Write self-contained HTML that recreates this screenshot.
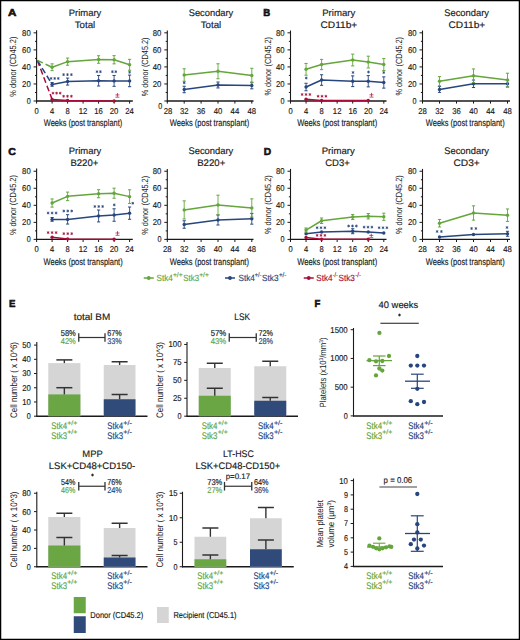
<!DOCTYPE html>
<html><head><meta charset="utf-8"><style>
html,body{margin:0;padding:0;background:#fff;}
body{width:520px;height:640px;overflow:hidden;}
svg{display:block;font-family:"Liberation Sans", sans-serif;}
</style></head><body>
<svg width="520" height="640" viewBox="0 0 520 640" text-rendering="geometricPrecision">
<rect x="0" y="0" width="520" height="640" fill="#fff"/>
<line x1="36.6" y1="30.2" x2="36.6" y2="101.5" stroke="#1a1a1a" stroke-width="1.1"/>
<line x1="36.1" y1="101" x2="132.8" y2="101" stroke="#1a1a1a" stroke-width="1.3"/>
<line x1="33.6" y1="101" x2="36.6" y2="101" stroke="#1a1a1a" stroke-width="1"/>
<line x1="33.6" y1="83.96" x2="36.6" y2="83.96" stroke="#1a1a1a" stroke-width="1"/>
<line x1="33.6" y1="66.92" x2="36.6" y2="66.92" stroke="#1a1a1a" stroke-width="1"/>
<line x1="33.6" y1="49.88" x2="36.6" y2="49.88" stroke="#1a1a1a" stroke-width="1"/>
<line x1="33.6" y1="32.84" x2="36.6" y2="32.84" stroke="#1a1a1a" stroke-width="1"/>
<line x1="35" y1="92.48" x2="36.6" y2="92.48" stroke="#1a1a1a" stroke-width="1"/>
<line x1="35" y1="75.44" x2="36.6" y2="75.44" stroke="#1a1a1a" stroke-width="1"/>
<line x1="35" y1="58.4" x2="36.6" y2="58.4" stroke="#1a1a1a" stroke-width="1"/>
<line x1="35" y1="41.36" x2="36.6" y2="41.36" stroke="#1a1a1a" stroke-width="1"/>
<line x1="36.6" y1="101" x2="36.6" y2="103.6" stroke="#1a1a1a" stroke-width="1"/>
<line x1="52.1" y1="101" x2="52.1" y2="103.6" stroke="#1a1a1a" stroke-width="1"/>
<line x1="67.6" y1="101" x2="67.6" y2="103.6" stroke="#1a1a1a" stroke-width="1"/>
<line x1="83.1" y1="101" x2="83.1" y2="103.6" stroke="#1a1a1a" stroke-width="1"/>
<line x1="98.6" y1="101" x2="98.6" y2="103.6" stroke="#1a1a1a" stroke-width="1"/>
<line x1="114.1" y1="101" x2="114.1" y2="103.6" stroke="#1a1a1a" stroke-width="1"/>
<line x1="129.6" y1="101" x2="129.6" y2="103.6" stroke="#1a1a1a" stroke-width="1"/>
<text x="30.7" y="86.86" font-size="8.5" fill="#1a1a1a" stroke="#1a1a1a" stroke-width="0.16" text-anchor="end" textLength="8.6" lengthAdjust="spacingAndGlyphs">20</text>
<text x="30.7" y="69.82" font-size="8.5" fill="#1a1a1a" stroke="#1a1a1a" stroke-width="0.16" text-anchor="end" textLength="8.6" lengthAdjust="spacingAndGlyphs">40</text>
<text x="30.7" y="52.78" font-size="8.5" fill="#1a1a1a" stroke="#1a1a1a" stroke-width="0.16" text-anchor="end" textLength="8.6" lengthAdjust="spacingAndGlyphs">60</text>
<text x="30.7" y="35.74" font-size="8.5" fill="#1a1a1a" stroke="#1a1a1a" stroke-width="0.16" text-anchor="end" textLength="8.6" lengthAdjust="spacingAndGlyphs">80</text>
<text x="30.7" y="103.9" font-size="8.5" fill="#1a1a1a" stroke="#1a1a1a" stroke-width="0.16" text-anchor="end" textLength="4" lengthAdjust="spacingAndGlyphs">0</text>
<text x="36.6" y="113.8" font-size="8.5" fill="#1a1a1a" stroke="#1a1a1a" stroke-width="0.16" text-anchor="middle" textLength="4.2" lengthAdjust="spacingAndGlyphs">0</text>
<text x="52.1" y="113.8" font-size="8.5" fill="#1a1a1a" stroke="#1a1a1a" stroke-width="0.16" text-anchor="middle" textLength="4.2" lengthAdjust="spacingAndGlyphs">4</text>
<text x="67.6" y="113.8" font-size="8.5" fill="#1a1a1a" stroke="#1a1a1a" stroke-width="0.16" text-anchor="middle" textLength="4.2" lengthAdjust="spacingAndGlyphs">8</text>
<text x="83.1" y="113.8" font-size="8.5" fill="#1a1a1a" stroke="#1a1a1a" stroke-width="0.16" text-anchor="middle" textLength="8.6" lengthAdjust="spacingAndGlyphs">12</text>
<text x="98.6" y="113.8" font-size="8.5" fill="#1a1a1a" stroke="#1a1a1a" stroke-width="0.16" text-anchor="middle" textLength="8.6" lengthAdjust="spacingAndGlyphs">16</text>
<text x="114.1" y="113.8" font-size="8.5" fill="#1a1a1a" stroke="#1a1a1a" stroke-width="0.16" text-anchor="middle" textLength="8.6" lengthAdjust="spacingAndGlyphs">20</text>
<text x="129.6" y="113.8" font-size="8.5" fill="#1a1a1a" stroke="#1a1a1a" stroke-width="0.16" text-anchor="middle" textLength="8.6" lengthAdjust="spacingAndGlyphs">24</text>
<polyline points="37.4,60.4 52.1,99.38" fill="none" stroke="#a80c38" stroke-width="1.5" stroke-linejoin="round" stroke-dasharray="6,3"/>
<polyline points="52.1,99.38 67.6,100.57 114.1,101" fill="none" stroke="#a80c38" stroke-width="1.5" stroke-linejoin="round"/>
<circle cx="52.1" cy="99.38" r="1.7" fill="#a80c38"/>
<circle cx="67.6" cy="100.57" r="1.7" fill="#a80c38"/>
<circle cx="114.1" cy="101" r="1.7" fill="#a80c38"/>
<polyline points="37.4,60.4 52.1,84.39" fill="none" stroke="#28467e" stroke-width="1.5" stroke-linejoin="round" stroke-dasharray="6,3"/>
<polyline points="52.1,84.39 67.6,81.57 98.6,80.72 114.1,80.89 129.6,80.89" fill="none" stroke="#28467e" stroke-width="1.5" stroke-linejoin="round"/>
<line x1="52.1" y1="82.51" x2="52.1" y2="86.26" stroke="#28467e" stroke-width="0.9"/>
<line x1="50.5" y1="82.51" x2="53.7" y2="82.51" stroke="#28467e" stroke-width="1"/>
<line x1="50.5" y1="86.26" x2="53.7" y2="86.26" stroke="#28467e" stroke-width="1"/>
<circle cx="52.1" cy="84.39" r="1.7" fill="#28467e"/>
<line x1="67.6" y1="78.08" x2="67.6" y2="85.07" stroke="#28467e" stroke-width="0.9"/>
<line x1="66" y1="78.08" x2="69.2" y2="78.08" stroke="#28467e" stroke-width="1"/>
<line x1="66" y1="85.07" x2="69.2" y2="85.07" stroke="#28467e" stroke-width="1"/>
<circle cx="67.6" cy="81.57" r="1.7" fill="#28467e"/>
<line x1="98.6" y1="75.44" x2="98.6" y2="86" stroke="#28467e" stroke-width="0.9"/>
<line x1="97" y1="75.44" x2="100.2" y2="75.44" stroke="#28467e" stroke-width="1"/>
<line x1="97" y1="86" x2="100.2" y2="86" stroke="#28467e" stroke-width="1"/>
<circle cx="98.6" cy="80.72" r="1.7" fill="#28467e"/>
<line x1="114.1" y1="75.44" x2="114.1" y2="86.35" stroke="#28467e" stroke-width="0.9"/>
<line x1="112.5" y1="75.44" x2="115.7" y2="75.44" stroke="#28467e" stroke-width="1"/>
<line x1="112.5" y1="86.35" x2="115.7" y2="86.35" stroke="#28467e" stroke-width="1"/>
<circle cx="114.1" cy="80.89" r="1.7" fill="#28467e"/>
<line x1="129.6" y1="75.1" x2="129.6" y2="86.69" stroke="#28467e" stroke-width="0.9"/>
<line x1="128" y1="75.1" x2="131.2" y2="75.1" stroke="#28467e" stroke-width="1"/>
<line x1="128" y1="86.69" x2="131.2" y2="86.69" stroke="#28467e" stroke-width="1"/>
<circle cx="129.6" cy="80.89" r="1.7" fill="#28467e"/>
<polyline points="37.4,60.4 52.1,67.26" fill="none" stroke="#64a63c" stroke-width="1.5" stroke-linejoin="round" stroke-dasharray="6,3"/>
<polyline points="52.1,67.26 67.6,61.64 98.6,59.51 114.1,59.76 129.6,64.79" fill="none" stroke="#64a63c" stroke-width="1.5" stroke-linejoin="round"/>
<line x1="52.1" y1="63.85" x2="52.1" y2="70.67" stroke="#64a63c" stroke-width="0.9"/>
<line x1="50.5" y1="63.85" x2="53.7" y2="63.85" stroke="#64a63c" stroke-width="1"/>
<line x1="50.5" y1="70.67" x2="53.7" y2="70.67" stroke="#64a63c" stroke-width="1"/>
<circle cx="52.1" cy="67.26" r="1.7" fill="#64a63c"/>
<line x1="67.6" y1="58.06" x2="67.6" y2="65.22" stroke="#64a63c" stroke-width="0.9"/>
<line x1="66" y1="58.06" x2="69.2" y2="58.06" stroke="#64a63c" stroke-width="1"/>
<line x1="66" y1="65.22" x2="69.2" y2="65.22" stroke="#64a63c" stroke-width="1"/>
<circle cx="67.6" cy="61.64" r="1.7" fill="#64a63c"/>
<line x1="98.6" y1="55.76" x2="98.6" y2="63.26" stroke="#64a63c" stroke-width="0.9"/>
<line x1="97" y1="55.76" x2="100.2" y2="55.76" stroke="#64a63c" stroke-width="1"/>
<line x1="97" y1="63.26" x2="100.2" y2="63.26" stroke="#64a63c" stroke-width="1"/>
<circle cx="98.6" cy="59.51" r="1.7" fill="#64a63c"/>
<line x1="114.1" y1="55.67" x2="114.1" y2="63.85" stroke="#64a63c" stroke-width="0.9"/>
<line x1="112.5" y1="55.67" x2="115.7" y2="55.67" stroke="#64a63c" stroke-width="1"/>
<line x1="112.5" y1="63.85" x2="115.7" y2="63.85" stroke="#64a63c" stroke-width="1"/>
<circle cx="114.1" cy="59.76" r="1.7" fill="#64a63c"/>
<line x1="129.6" y1="59.34" x2="129.6" y2="70.24" stroke="#64a63c" stroke-width="0.9"/>
<line x1="128" y1="59.34" x2="131.2" y2="59.34" stroke="#64a63c" stroke-width="1"/>
<line x1="128" y1="70.24" x2="131.2" y2="70.24" stroke="#64a63c" stroke-width="1"/>
<circle cx="129.6" cy="64.79" r="1.7" fill="#64a63c"/>
<path d="M51.1,77.05L51.1,79.85M52.31,77.75L49.89,79.15M52.31,79.15L49.89,77.75" stroke="#28467e" stroke-width="0.8" fill="none"/>
<path d="M54.7,77.05L54.7,79.85M55.91,77.75L53.49,79.15M55.91,79.15L53.49,77.75" stroke="#28467e" stroke-width="0.8" fill="none"/>
<path d="M58.3,77.05L58.3,79.85M59.51,77.75L57.09,79.15M59.51,79.15L57.09,77.75" stroke="#28467e" stroke-width="0.8" fill="none"/>
<path d="M63.6,73.22L63.6,76.03M64.81,73.92L62.39,75.33M64.81,75.33L62.39,73.92" stroke="#28467e" stroke-width="0.8" fill="none"/>
<path d="M67.5,73.22L67.5,76.03M68.71,73.92L66.29,75.33M68.71,75.33L66.29,73.92" stroke="#28467e" stroke-width="0.8" fill="none"/>
<path d="M71.4,73.22L71.4,76.03M72.61,73.92L70.19,75.33M72.61,75.33L70.19,73.92" stroke="#28467e" stroke-width="0.8" fill="none"/>
<path d="M97,70.3L97,73.1M98.21,71L95.79,72.4M98.21,72.4L95.79,71" stroke="#28467e" stroke-width="0.8" fill="none"/>
<path d="M100.4,70.3L100.4,73.1M101.61,71L99.19,72.4M101.61,72.4L99.19,71" stroke="#28467e" stroke-width="0.8" fill="none"/>
<path d="M112.4,70.3L112.4,73.1M113.61,71L111.19,72.4M113.61,72.4L111.19,71" stroke="#28467e" stroke-width="0.8" fill="none"/>
<path d="M115.8,70.3L115.8,73.1M117.01,71L114.59,72.4M117.01,72.4L114.59,71" stroke="#28467e" stroke-width="0.8" fill="none"/>
<path d="M129.6,70.85L129.6,73.65M130.81,71.55L128.39,72.95M130.81,72.95L128.39,71.55" stroke="#28467e" stroke-width="0.8" fill="none"/>
<path d="M53,91.75L53,94.55M54.21,92.45L51.79,93.85M54.21,93.85L51.79,92.45" stroke="#a80c38" stroke-width="0.8" fill="none"/>
<path d="M56.58,91.75L56.58,94.55M57.79,92.45L55.36,93.85M57.79,93.85L55.36,92.45" stroke="#a80c38" stroke-width="0.8" fill="none"/>
<path d="M60.15,91.75L60.15,94.55M61.36,92.45L58.94,93.85M61.36,93.85L58.94,92.45" stroke="#a80c38" stroke-width="0.8" fill="none"/>
<path d="M63.6,94.85L63.6,97.65M64.81,95.55L62.39,96.95M64.81,96.95L62.39,95.55" stroke="#a80c38" stroke-width="0.8" fill="none"/>
<path d="M67.5,94.85L67.5,97.65M68.71,95.55L66.29,96.95M68.71,96.95L66.29,95.55" stroke="#a80c38" stroke-width="0.8" fill="none"/>
<path d="M71.4,94.85L71.4,97.65M72.61,95.55L70.19,96.95M72.61,96.95L70.19,95.55" stroke="#a80c38" stroke-width="0.8" fill="none"/>
<line x1="115.4" y1="94.9" x2="119.4" y2="94.9" stroke="#a80c38" stroke-width="0.7"/>
<line x1="117.4" y1="93" x2="117.4" y2="96.8" stroke="#a80c38" stroke-width="0.7"/>
<line x1="115.4" y1="97.2" x2="119.4" y2="97.2" stroke="#a80c38" stroke-width="0.7"/>
<line x1="167.3" y1="30.5" x2="167.3" y2="101.5" stroke="#1a1a1a" stroke-width="1.1"/>
<line x1="166.8" y1="101" x2="253.5" y2="101" stroke="#1a1a1a" stroke-width="1.3"/>
<line x1="164.3" y1="101" x2="167.3" y2="101" stroke="#1a1a1a" stroke-width="1"/>
<line x1="164.3" y1="83.96" x2="167.3" y2="83.96" stroke="#1a1a1a" stroke-width="1"/>
<line x1="164.3" y1="66.92" x2="167.3" y2="66.92" stroke="#1a1a1a" stroke-width="1"/>
<line x1="164.3" y1="49.88" x2="167.3" y2="49.88" stroke="#1a1a1a" stroke-width="1"/>
<line x1="164.3" y1="32.84" x2="167.3" y2="32.84" stroke="#1a1a1a" stroke-width="1"/>
<line x1="165.7" y1="92.48" x2="167.3" y2="92.48" stroke="#1a1a1a" stroke-width="1"/>
<line x1="165.7" y1="75.44" x2="167.3" y2="75.44" stroke="#1a1a1a" stroke-width="1"/>
<line x1="165.7" y1="58.4" x2="167.3" y2="58.4" stroke="#1a1a1a" stroke-width="1"/>
<line x1="165.7" y1="41.36" x2="167.3" y2="41.36" stroke="#1a1a1a" stroke-width="1"/>
<line x1="167.3" y1="101" x2="167.3" y2="103.6" stroke="#1a1a1a" stroke-width="1"/>
<line x1="184.2" y1="101" x2="184.2" y2="103.6" stroke="#1a1a1a" stroke-width="1"/>
<line x1="201.1" y1="101" x2="201.1" y2="103.6" stroke="#1a1a1a" stroke-width="1"/>
<line x1="218" y1="101" x2="218" y2="103.6" stroke="#1a1a1a" stroke-width="1"/>
<line x1="234.9" y1="101" x2="234.9" y2="103.6" stroke="#1a1a1a" stroke-width="1"/>
<line x1="251.8" y1="101" x2="251.8" y2="103.6" stroke="#1a1a1a" stroke-width="1"/>
<text x="161.4" y="86.86" font-size="8.5" fill="#1a1a1a" stroke="#1a1a1a" stroke-width="0.16" text-anchor="end" textLength="8.6" lengthAdjust="spacingAndGlyphs">20</text>
<text x="161.4" y="69.82" font-size="8.5" fill="#1a1a1a" stroke="#1a1a1a" stroke-width="0.16" text-anchor="end" textLength="8.6" lengthAdjust="spacingAndGlyphs">40</text>
<text x="161.4" y="52.78" font-size="8.5" fill="#1a1a1a" stroke="#1a1a1a" stroke-width="0.16" text-anchor="end" textLength="8.6" lengthAdjust="spacingAndGlyphs">60</text>
<text x="161.4" y="35.74" font-size="8.5" fill="#1a1a1a" stroke="#1a1a1a" stroke-width="0.16" text-anchor="end" textLength="8.6" lengthAdjust="spacingAndGlyphs">80</text>
<text x="162.3" y="109.1" font-size="8.5" fill="#1a1a1a" stroke="#1a1a1a" stroke-width="0.16" text-anchor="end" textLength="4" lengthAdjust="spacingAndGlyphs">0</text>
<text x="168.1" y="113.8" font-size="8.5" fill="#1a1a1a" stroke="#1a1a1a" stroke-width="0.16" text-anchor="middle" textLength="8.6" lengthAdjust="spacingAndGlyphs">28</text>
<text x="184.2" y="113.8" font-size="8.5" fill="#1a1a1a" stroke="#1a1a1a" stroke-width="0.16" text-anchor="middle" textLength="8.6" lengthAdjust="spacingAndGlyphs">32</text>
<text x="201.1" y="113.8" font-size="8.5" fill="#1a1a1a" stroke="#1a1a1a" stroke-width="0.16" text-anchor="middle" textLength="8.6" lengthAdjust="spacingAndGlyphs">36</text>
<text x="218" y="113.8" font-size="8.5" fill="#1a1a1a" stroke="#1a1a1a" stroke-width="0.16" text-anchor="middle" textLength="8.6" lengthAdjust="spacingAndGlyphs">40</text>
<text x="234.9" y="113.8" font-size="8.5" fill="#1a1a1a" stroke="#1a1a1a" stroke-width="0.16" text-anchor="middle" textLength="8.6" lengthAdjust="spacingAndGlyphs">44</text>
<text x="251.8" y="113.8" font-size="8.5" fill="#1a1a1a" stroke="#1a1a1a" stroke-width="0.16" text-anchor="middle" textLength="8.6" lengthAdjust="spacingAndGlyphs">48</text>
<polyline points="184.2,89.5 218,84.98 251.8,85.49" fill="none" stroke="#28467e" stroke-width="1.5" stroke-linejoin="round"/>
<line x1="184.2" y1="86.26" x2="184.2" y2="92.74" stroke="#28467e" stroke-width="0.9"/>
<line x1="182.6" y1="86.26" x2="185.8" y2="86.26" stroke="#28467e" stroke-width="1"/>
<line x1="182.6" y1="92.74" x2="185.8" y2="92.74" stroke="#28467e" stroke-width="1"/>
<circle cx="184.2" cy="89.5" r="1.7" fill="#28467e"/>
<line x1="218" y1="82" x2="218" y2="87.96" stroke="#28467e" stroke-width="0.9"/>
<line x1="216.4" y1="82" x2="219.6" y2="82" stroke="#28467e" stroke-width="1"/>
<line x1="216.4" y1="87.96" x2="219.6" y2="87.96" stroke="#28467e" stroke-width="1"/>
<circle cx="218" cy="84.98" r="1.7" fill="#28467e"/>
<line x1="251.8" y1="82.17" x2="251.8" y2="88.82" stroke="#28467e" stroke-width="0.9"/>
<line x1="250.2" y1="82.17" x2="253.4" y2="82.17" stroke="#28467e" stroke-width="1"/>
<line x1="250.2" y1="88.82" x2="253.4" y2="88.82" stroke="#28467e" stroke-width="1"/>
<circle cx="251.8" cy="85.49" r="1.7" fill="#28467e"/>
<polyline points="184.2,75.01 218,71.27 251.8,75.53" fill="none" stroke="#64a63c" stroke-width="1.5" stroke-linejoin="round"/>
<line x1="184.2" y1="68.79" x2="184.2" y2="81.23" stroke="#64a63c" stroke-width="0.9"/>
<line x1="182.6" y1="68.79" x2="185.8" y2="68.79" stroke="#64a63c" stroke-width="1"/>
<line x1="182.6" y1="81.23" x2="185.8" y2="81.23" stroke="#64a63c" stroke-width="1"/>
<circle cx="184.2" cy="75.01" r="1.7" fill="#64a63c"/>
<line x1="218" y1="63.77" x2="218" y2="78.76" stroke="#64a63c" stroke-width="0.9"/>
<line x1="216.4" y1="63.77" x2="219.6" y2="63.77" stroke="#64a63c" stroke-width="1"/>
<line x1="216.4" y1="78.76" x2="219.6" y2="78.76" stroke="#64a63c" stroke-width="1"/>
<circle cx="218" cy="71.27" r="1.7" fill="#64a63c"/>
<line x1="251.8" y1="68.28" x2="251.8" y2="82.77" stroke="#64a63c" stroke-width="0.9"/>
<line x1="250.2" y1="68.28" x2="253.4" y2="68.28" stroke="#64a63c" stroke-width="1"/>
<line x1="250.2" y1="82.77" x2="253.4" y2="82.77" stroke="#64a63c" stroke-width="1"/>
<circle cx="251.8" cy="75.53" r="1.7" fill="#64a63c"/>
<path d="M184.2,81.4L184.2,84.2M185.41,82.1L182.99,83.5M185.41,83.5L182.99,82.1" stroke="#28467e" stroke-width="0.8" fill="none"/>
<line x1="290.5" y1="30.5" x2="290.5" y2="101.5" stroke="#1a1a1a" stroke-width="1.1"/>
<line x1="290" y1="101" x2="386.5" y2="101" stroke="#1a1a1a" stroke-width="1.3"/>
<line x1="287.5" y1="101" x2="290.5" y2="101" stroke="#1a1a1a" stroke-width="1"/>
<line x1="287.5" y1="83.96" x2="290.5" y2="83.96" stroke="#1a1a1a" stroke-width="1"/>
<line x1="287.5" y1="66.92" x2="290.5" y2="66.92" stroke="#1a1a1a" stroke-width="1"/>
<line x1="287.5" y1="49.88" x2="290.5" y2="49.88" stroke="#1a1a1a" stroke-width="1"/>
<line x1="287.5" y1="32.84" x2="290.5" y2="32.84" stroke="#1a1a1a" stroke-width="1"/>
<line x1="288.9" y1="92.48" x2="290.5" y2="92.48" stroke="#1a1a1a" stroke-width="1"/>
<line x1="288.9" y1="75.44" x2="290.5" y2="75.44" stroke="#1a1a1a" stroke-width="1"/>
<line x1="288.9" y1="58.4" x2="290.5" y2="58.4" stroke="#1a1a1a" stroke-width="1"/>
<line x1="288.9" y1="41.36" x2="290.5" y2="41.36" stroke="#1a1a1a" stroke-width="1"/>
<line x1="290.5" y1="101" x2="290.5" y2="103.6" stroke="#1a1a1a" stroke-width="1"/>
<line x1="306.05" y1="101" x2="306.05" y2="103.6" stroke="#1a1a1a" stroke-width="1"/>
<line x1="321.6" y1="101" x2="321.6" y2="103.6" stroke="#1a1a1a" stroke-width="1"/>
<line x1="337.15" y1="101" x2="337.15" y2="103.6" stroke="#1a1a1a" stroke-width="1"/>
<line x1="352.7" y1="101" x2="352.7" y2="103.6" stroke="#1a1a1a" stroke-width="1"/>
<line x1="368.25" y1="101" x2="368.25" y2="103.6" stroke="#1a1a1a" stroke-width="1"/>
<line x1="383.8" y1="101" x2="383.8" y2="103.6" stroke="#1a1a1a" stroke-width="1"/>
<text x="284.6" y="86.86" font-size="8.5" fill="#1a1a1a" stroke="#1a1a1a" stroke-width="0.16" text-anchor="end" textLength="8.6" lengthAdjust="spacingAndGlyphs">20</text>
<text x="284.6" y="69.82" font-size="8.5" fill="#1a1a1a" stroke="#1a1a1a" stroke-width="0.16" text-anchor="end" textLength="8.6" lengthAdjust="spacingAndGlyphs">40</text>
<text x="284.6" y="52.78" font-size="8.5" fill="#1a1a1a" stroke="#1a1a1a" stroke-width="0.16" text-anchor="end" textLength="8.6" lengthAdjust="spacingAndGlyphs">60</text>
<text x="284.6" y="35.74" font-size="8.5" fill="#1a1a1a" stroke="#1a1a1a" stroke-width="0.16" text-anchor="end" textLength="8.6" lengthAdjust="spacingAndGlyphs">80</text>
<text x="284.6" y="103.9" font-size="8.5" fill="#1a1a1a" stroke="#1a1a1a" stroke-width="0.16" text-anchor="end" textLength="4" lengthAdjust="spacingAndGlyphs">0</text>
<text x="290.5" y="113.8" font-size="8.5" fill="#1a1a1a" stroke="#1a1a1a" stroke-width="0.16" text-anchor="middle" textLength="4.2" lengthAdjust="spacingAndGlyphs">0</text>
<text x="306.05" y="113.8" font-size="8.5" fill="#1a1a1a" stroke="#1a1a1a" stroke-width="0.16" text-anchor="middle" textLength="4.2" lengthAdjust="spacingAndGlyphs">4</text>
<text x="321.6" y="113.8" font-size="8.5" fill="#1a1a1a" stroke="#1a1a1a" stroke-width="0.16" text-anchor="middle" textLength="4.2" lengthAdjust="spacingAndGlyphs">8</text>
<text x="337.15" y="113.8" font-size="8.5" fill="#1a1a1a" stroke="#1a1a1a" stroke-width="0.16" text-anchor="middle" textLength="8.6" lengthAdjust="spacingAndGlyphs">12</text>
<text x="352.7" y="113.8" font-size="8.5" fill="#1a1a1a" stroke="#1a1a1a" stroke-width="0.16" text-anchor="middle" textLength="8.6" lengthAdjust="spacingAndGlyphs">16</text>
<text x="368.25" y="113.8" font-size="8.5" fill="#1a1a1a" stroke="#1a1a1a" stroke-width="0.16" text-anchor="middle" textLength="8.6" lengthAdjust="spacingAndGlyphs">20</text>
<text x="383.8" y="113.8" font-size="8.5" fill="#1a1a1a" stroke="#1a1a1a" stroke-width="0.16" text-anchor="middle" textLength="8.6" lengthAdjust="spacingAndGlyphs">24</text>
<polyline points="306.05,99.25 321.6,100.49 368.25,100.49" fill="none" stroke="#a80c38" stroke-width="1.5" stroke-linejoin="round"/>
<circle cx="306.05" cy="99.25" r="1.7" fill="#a80c38"/>
<circle cx="321.6" cy="100.49" r="1.7" fill="#a80c38"/>
<circle cx="368.25" cy="100.49" r="1.7" fill="#a80c38"/>
<polyline points="306.05,87.03 321.6,80.04 352.7,81.23 368.25,81.23 383.8,82.51" fill="none" stroke="#28467e" stroke-width="1.5" stroke-linejoin="round"/>
<line x1="306.05" y1="83.28" x2="306.05" y2="90.78" stroke="#28467e" stroke-width="0.9"/>
<line x1="304.45" y1="83.28" x2="307.65" y2="83.28" stroke="#28467e" stroke-width="1"/>
<line x1="304.45" y1="90.78" x2="307.65" y2="90.78" stroke="#28467e" stroke-width="1"/>
<circle cx="306.05" cy="87.03" r="1.7" fill="#28467e"/>
<line x1="321.6" y1="74.76" x2="321.6" y2="85.32" stroke="#28467e" stroke-width="0.9"/>
<line x1="320" y1="74.76" x2="323.2" y2="74.76" stroke="#28467e" stroke-width="1"/>
<line x1="320" y1="85.32" x2="323.2" y2="85.32" stroke="#28467e" stroke-width="1"/>
<circle cx="321.6" cy="80.04" r="1.7" fill="#28467e"/>
<line x1="352.7" y1="75.87" x2="352.7" y2="86.6" stroke="#28467e" stroke-width="0.9"/>
<line x1="351.1" y1="75.87" x2="354.3" y2="75.87" stroke="#28467e" stroke-width="1"/>
<line x1="351.1" y1="86.6" x2="354.3" y2="86.6" stroke="#28467e" stroke-width="1"/>
<circle cx="352.7" cy="81.23" r="1.7" fill="#28467e"/>
<line x1="368.25" y1="75.61" x2="368.25" y2="86.86" stroke="#28467e" stroke-width="0.9"/>
<line x1="366.65" y1="75.61" x2="369.85" y2="75.61" stroke="#28467e" stroke-width="1"/>
<line x1="366.65" y1="86.86" x2="369.85" y2="86.86" stroke="#28467e" stroke-width="1"/>
<circle cx="368.25" cy="81.23" r="1.7" fill="#28467e"/>
<line x1="383.8" y1="76.89" x2="383.8" y2="88.13" stroke="#28467e" stroke-width="0.9"/>
<line x1="382.2" y1="76.89" x2="385.4" y2="76.89" stroke="#28467e" stroke-width="1"/>
<line x1="382.2" y1="88.13" x2="385.4" y2="88.13" stroke="#28467e" stroke-width="1"/>
<circle cx="383.8" cy="82.51" r="1.7" fill="#28467e"/>
<polyline points="306.05,69.31 321.6,64.53 352.7,60.02 368.25,62.06 383.8,64.53" fill="none" stroke="#64a63c" stroke-width="1.5" stroke-linejoin="round"/>
<line x1="306.05" y1="63.43" x2="306.05" y2="75.18" stroke="#64a63c" stroke-width="0.9"/>
<line x1="304.45" y1="63.43" x2="307.65" y2="63.43" stroke="#64a63c" stroke-width="1"/>
<line x1="304.45" y1="75.18" x2="307.65" y2="75.18" stroke="#64a63c" stroke-width="1"/>
<circle cx="306.05" cy="69.31" r="1.7" fill="#64a63c"/>
<line x1="321.6" y1="59.42" x2="321.6" y2="69.65" stroke="#64a63c" stroke-width="0.9"/>
<line x1="320" y1="59.42" x2="323.2" y2="59.42" stroke="#64a63c" stroke-width="1"/>
<line x1="320" y1="69.65" x2="323.2" y2="69.65" stroke="#64a63c" stroke-width="1"/>
<circle cx="321.6" cy="64.53" r="1.7" fill="#64a63c"/>
<line x1="352.7" y1="54.14" x2="352.7" y2="65.9" stroke="#64a63c" stroke-width="0.9"/>
<line x1="351.1" y1="54.14" x2="354.3" y2="54.14" stroke="#64a63c" stroke-width="1"/>
<line x1="351.1" y1="65.9" x2="354.3" y2="65.9" stroke="#64a63c" stroke-width="1"/>
<circle cx="352.7" cy="60.02" r="1.7" fill="#64a63c"/>
<line x1="368.25" y1="56.18" x2="368.25" y2="67.94" stroke="#64a63c" stroke-width="0.9"/>
<line x1="366.65" y1="56.18" x2="369.85" y2="56.18" stroke="#64a63c" stroke-width="1"/>
<line x1="366.65" y1="67.94" x2="369.85" y2="67.94" stroke="#64a63c" stroke-width="1"/>
<circle cx="368.25" cy="62.06" r="1.7" fill="#64a63c"/>
<line x1="383.8" y1="58.57" x2="383.8" y2="70.5" stroke="#64a63c" stroke-width="0.9"/>
<line x1="382.2" y1="58.57" x2="385.4" y2="58.57" stroke="#64a63c" stroke-width="1"/>
<line x1="382.2" y1="70.5" x2="385.4" y2="70.5" stroke="#64a63c" stroke-width="1"/>
<circle cx="383.8" cy="64.53" r="1.7" fill="#64a63c"/>
<path d="M306.25,76.6L306.25,79.4M307.46,77.3L305.04,78.7M307.46,78.7L305.04,77.3" stroke="#28467e" stroke-width="0.8" fill="none"/>
<path d="M353,71.1L353,73.9M354.21,71.8L351.79,73.2M354.21,73.2L351.79,71.8" stroke="#28467e" stroke-width="0.8" fill="none"/>
<path d="M368.5,70.6L368.5,73.4M369.71,71.3L367.29,72.7M369.71,72.7L367.29,71.3" stroke="#28467e" stroke-width="0.8" fill="none"/>
<path d="M383.75,71.1L383.75,73.9M384.96,71.8L382.54,73.2M384.96,73.2L382.54,71.8" stroke="#28467e" stroke-width="0.8" fill="none"/>
<path d="M302.1,93.1L302.1,95.9M303.31,93.8L300.89,95.2M303.31,95.2L300.89,93.8" stroke="#a80c38" stroke-width="0.8" fill="none"/>
<path d="M306,93.1L306,95.9M307.21,93.8L304.79,95.2M307.21,95.2L304.79,93.8" stroke="#a80c38" stroke-width="0.8" fill="none"/>
<path d="M309.9,93.1L309.9,95.9M311.11,93.8L308.69,95.2M311.11,95.2L308.69,93.8" stroke="#a80c38" stroke-width="0.8" fill="none"/>
<path d="M318.1,94.85L318.1,97.65M319.31,95.55L316.89,96.95M319.31,96.95L316.89,95.55" stroke="#a80c38" stroke-width="0.8" fill="none"/>
<path d="M322,94.85L322,97.65M323.21,95.55L320.79,96.95M323.21,96.95L320.79,95.55" stroke="#a80c38" stroke-width="0.8" fill="none"/>
<path d="M325.9,94.85L325.9,97.65M327.11,95.55L324.69,96.95M327.11,96.95L324.69,95.55" stroke="#a80c38" stroke-width="0.8" fill="none"/>
<line x1="369.5" y1="94.8" x2="373.5" y2="94.8" stroke="#a80c38" stroke-width="0.7"/>
<line x1="371.5" y1="92.9" x2="371.5" y2="96.7" stroke="#a80c38" stroke-width="0.7"/>
<line x1="369.5" y1="97.1" x2="373.5" y2="97.1" stroke="#a80c38" stroke-width="0.7"/>
<line x1="422.5" y1="30.5" x2="422.5" y2="101.5" stroke="#1a1a1a" stroke-width="1.1"/>
<line x1="422" y1="101" x2="510" y2="101" stroke="#1a1a1a" stroke-width="1.3"/>
<line x1="419.5" y1="101" x2="422.5" y2="101" stroke="#1a1a1a" stroke-width="1"/>
<line x1="419.5" y1="83.96" x2="422.5" y2="83.96" stroke="#1a1a1a" stroke-width="1"/>
<line x1="419.5" y1="66.92" x2="422.5" y2="66.92" stroke="#1a1a1a" stroke-width="1"/>
<line x1="419.5" y1="49.88" x2="422.5" y2="49.88" stroke="#1a1a1a" stroke-width="1"/>
<line x1="419.5" y1="32.84" x2="422.5" y2="32.84" stroke="#1a1a1a" stroke-width="1"/>
<line x1="420.9" y1="92.48" x2="422.5" y2="92.48" stroke="#1a1a1a" stroke-width="1"/>
<line x1="420.9" y1="75.44" x2="422.5" y2="75.44" stroke="#1a1a1a" stroke-width="1"/>
<line x1="420.9" y1="58.4" x2="422.5" y2="58.4" stroke="#1a1a1a" stroke-width="1"/>
<line x1="420.9" y1="41.36" x2="422.5" y2="41.36" stroke="#1a1a1a" stroke-width="1"/>
<line x1="422.5" y1="101" x2="422.5" y2="103.6" stroke="#1a1a1a" stroke-width="1"/>
<line x1="439.5" y1="101" x2="439.5" y2="103.6" stroke="#1a1a1a" stroke-width="1"/>
<line x1="456.5" y1="101" x2="456.5" y2="103.6" stroke="#1a1a1a" stroke-width="1"/>
<line x1="473.5" y1="101" x2="473.5" y2="103.6" stroke="#1a1a1a" stroke-width="1"/>
<line x1="490.5" y1="101" x2="490.5" y2="103.6" stroke="#1a1a1a" stroke-width="1"/>
<line x1="507.5" y1="101" x2="507.5" y2="103.6" stroke="#1a1a1a" stroke-width="1"/>
<text x="416.6" y="86.86" font-size="8.5" fill="#1a1a1a" stroke="#1a1a1a" stroke-width="0.16" text-anchor="end" textLength="8.6" lengthAdjust="spacingAndGlyphs">20</text>
<text x="416.6" y="69.82" font-size="8.5" fill="#1a1a1a" stroke="#1a1a1a" stroke-width="0.16" text-anchor="end" textLength="8.6" lengthAdjust="spacingAndGlyphs">40</text>
<text x="416.6" y="52.78" font-size="8.5" fill="#1a1a1a" stroke="#1a1a1a" stroke-width="0.16" text-anchor="end" textLength="8.6" lengthAdjust="spacingAndGlyphs">60</text>
<text x="416.6" y="35.74" font-size="8.5" fill="#1a1a1a" stroke="#1a1a1a" stroke-width="0.16" text-anchor="end" textLength="8.6" lengthAdjust="spacingAndGlyphs">80</text>
<text x="416.6" y="103.9" font-size="8.5" fill="#1a1a1a" stroke="#1a1a1a" stroke-width="0.16" text-anchor="end" textLength="4" lengthAdjust="spacingAndGlyphs">0</text>
<text x="422.5" y="113.8" font-size="8.5" fill="#1a1a1a" stroke="#1a1a1a" stroke-width="0.16" text-anchor="middle" textLength="8.6" lengthAdjust="spacingAndGlyphs">28</text>
<text x="439.5" y="113.8" font-size="8.5" fill="#1a1a1a" stroke="#1a1a1a" stroke-width="0.16" text-anchor="middle" textLength="8.6" lengthAdjust="spacingAndGlyphs">32</text>
<text x="456.5" y="113.8" font-size="8.5" fill="#1a1a1a" stroke="#1a1a1a" stroke-width="0.16" text-anchor="middle" textLength="8.6" lengthAdjust="spacingAndGlyphs">36</text>
<text x="473.5" y="113.8" font-size="8.5" fill="#1a1a1a" stroke="#1a1a1a" stroke-width="0.16" text-anchor="middle" textLength="8.6" lengthAdjust="spacingAndGlyphs">40</text>
<text x="490.5" y="113.8" font-size="8.5" fill="#1a1a1a" stroke="#1a1a1a" stroke-width="0.16" text-anchor="middle" textLength="8.6" lengthAdjust="spacingAndGlyphs">44</text>
<text x="507.5" y="113.8" font-size="8.5" fill="#1a1a1a" stroke="#1a1a1a" stroke-width="0.16" text-anchor="middle" textLength="8.6" lengthAdjust="spacingAndGlyphs">48</text>
<polyline points="439.5,89.5 473.5,83.79 507.5,83.79" fill="none" stroke="#28467e" stroke-width="1.5" stroke-linejoin="round"/>
<line x1="439.5" y1="86.6" x2="439.5" y2="92.39" stroke="#28467e" stroke-width="0.9"/>
<line x1="437.9" y1="86.6" x2="441.1" y2="86.6" stroke="#28467e" stroke-width="1"/>
<line x1="437.9" y1="92.39" x2="441.1" y2="92.39" stroke="#28467e" stroke-width="1"/>
<circle cx="439.5" cy="89.5" r="1.7" fill="#28467e"/>
<line x1="473.5" y1="80.04" x2="473.5" y2="87.54" stroke="#28467e" stroke-width="0.9"/>
<line x1="471.9" y1="80.04" x2="475.1" y2="80.04" stroke="#28467e" stroke-width="1"/>
<line x1="471.9" y1="87.54" x2="475.1" y2="87.54" stroke="#28467e" stroke-width="1"/>
<circle cx="473.5" cy="83.79" r="1.7" fill="#28467e"/>
<line x1="507.5" y1="80.55" x2="507.5" y2="87.03" stroke="#28467e" stroke-width="0.9"/>
<line x1="505.9" y1="80.55" x2="509.1" y2="80.55" stroke="#28467e" stroke-width="1"/>
<line x1="505.9" y1="87.03" x2="509.1" y2="87.03" stroke="#28467e" stroke-width="1"/>
<circle cx="507.5" cy="83.79" r="1.7" fill="#28467e"/>
<polyline points="439.5,81.23 473.5,75.78 507.5,80.04" fill="none" stroke="#64a63c" stroke-width="1.5" stroke-linejoin="round"/>
<line x1="439.5" y1="76.63" x2="439.5" y2="85.83" stroke="#64a63c" stroke-width="0.9"/>
<line x1="437.9" y1="76.63" x2="441.1" y2="76.63" stroke="#64a63c" stroke-width="1"/>
<line x1="437.9" y1="85.83" x2="441.1" y2="85.83" stroke="#64a63c" stroke-width="1"/>
<circle cx="439.5" cy="81.23" r="1.7" fill="#64a63c"/>
<line x1="473.5" y1="68.96" x2="473.5" y2="82.6" stroke="#64a63c" stroke-width="0.9"/>
<line x1="471.9" y1="68.96" x2="475.1" y2="68.96" stroke="#64a63c" stroke-width="1"/>
<line x1="471.9" y1="82.6" x2="475.1" y2="82.6" stroke="#64a63c" stroke-width="1"/>
<circle cx="473.5" cy="75.78" r="1.7" fill="#64a63c"/>
<line x1="507.5" y1="73.22" x2="507.5" y2="86.86" stroke="#64a63c" stroke-width="0.9"/>
<line x1="505.9" y1="73.22" x2="509.1" y2="73.22" stroke="#64a63c" stroke-width="1"/>
<line x1="505.9" y1="86.86" x2="509.1" y2="86.86" stroke="#64a63c" stroke-width="1"/>
<circle cx="507.5" cy="80.04" r="1.7" fill="#64a63c"/>
<text x="85" y="15.5" font-size="9.5" fill="#1a1a1a" stroke="#1a1a1a" stroke-width="0.16" text-anchor="middle" textLength="32.6" lengthAdjust="spacingAndGlyphs">Primary</text>
<text x="85" y="27.5" font-size="9.5" fill="#1a1a1a" stroke="#1a1a1a" stroke-width="0.16" text-anchor="middle" textLength="20.6" lengthAdjust="spacingAndGlyphs">Total</text>
<text x="211" y="15.5" font-size="9.5" fill="#1a1a1a" stroke="#1a1a1a" stroke-width="0.16" text-anchor="middle" textLength="44.6" lengthAdjust="spacingAndGlyphs">Secondary</text>
<text x="211" y="27.5" font-size="9.5" fill="#1a1a1a" stroke="#1a1a1a" stroke-width="0.16" text-anchor="middle" textLength="20.6" lengthAdjust="spacingAndGlyphs">Total</text>
<text x="338.75" y="15.5" font-size="9.5" fill="#1a1a1a" stroke="#1a1a1a" stroke-width="0.16" text-anchor="middle" textLength="33.1" lengthAdjust="spacingAndGlyphs">Primary</text>
<text x="338.88" y="27.5" font-size="9.5" fill="#1a1a1a" stroke="#1a1a1a" stroke-width="0.16" text-anchor="middle" textLength="36.85" lengthAdjust="spacingAndGlyphs">CD11b+</text>
<text x="466.62" y="15.5" font-size="9.5" fill="#1a1a1a" stroke="#1a1a1a" stroke-width="0.16" text-anchor="middle" textLength="44.85" lengthAdjust="spacingAndGlyphs">Secondary</text>
<text x="466.88" y="27.5" font-size="9.5" fill="#1a1a1a" stroke="#1a1a1a" stroke-width="0.16" text-anchor="middle" textLength="36.85" lengthAdjust="spacingAndGlyphs">CD11b+</text>
<text x="83" y="126.4" font-size="9.6" fill="#1a1a1a" stroke="#1a1a1a" stroke-width="0.16" text-anchor="middle" textLength="78.4" lengthAdjust="spacingAndGlyphs">Weeks (post transplant)</text>
<text x="209.5" y="126.4" font-size="9.6" fill="#1a1a1a" stroke="#1a1a1a" stroke-width="0.16" text-anchor="middle" textLength="79.4" lengthAdjust="spacingAndGlyphs">Weeks (post transplant)</text>
<text x="337.25" y="126.4" font-size="9.6" fill="#1a1a1a" stroke="#1a1a1a" stroke-width="0.16" text-anchor="middle" textLength="79.9" lengthAdjust="spacingAndGlyphs">Weeks (post transplant)</text>
<text x="465.25" y="126.4" font-size="9.6" fill="#1a1a1a" stroke="#1a1a1a" stroke-width="0.16" text-anchor="middle" textLength="78.9" lengthAdjust="spacingAndGlyphs">Weeks (post transplant)</text>
<text transform="translate(16.2,66.65) rotate(-90)" font-size="9" fill="#1a1a1a" text-anchor="middle" textLength="60.1" lengthAdjust="spacingAndGlyphs">% donor (CD45.2)</text>
<text transform="translate(147.6,66.88) rotate(-90)" font-size="9" fill="#1a1a1a" text-anchor="middle" textLength="58.75" lengthAdjust="spacingAndGlyphs">% donor (CD45.2)</text>
<text transform="translate(270.6,66.25) rotate(-90)" font-size="9" fill="#1a1a1a" text-anchor="middle" textLength="58.5" lengthAdjust="spacingAndGlyphs">% donor (CD45.2)</text>
<text transform="translate(402.4,66.25) rotate(-90)" font-size="9" fill="#1a1a1a" text-anchor="middle" textLength="58.5" lengthAdjust="spacingAndGlyphs">% donor (CD45.2)</text>
<text x="8" y="15.5" font-size="10" fill="#1a1a1a" font-weight="bold" stroke="#000" stroke-width="0.55" textLength="8.4" lengthAdjust="spacingAndGlyphs">A</text>
<text x="263.2" y="15.5" font-size="10" fill="#1a1a1a" font-weight="bold" stroke="#000" stroke-width="0.55" textLength="7" lengthAdjust="spacingAndGlyphs">B</text>
<line x1="36.6" y1="168.6" x2="36.6" y2="239.9" stroke="#1a1a1a" stroke-width="1.1"/>
<line x1="36.1" y1="239.4" x2="132.8" y2="239.4" stroke="#1a1a1a" stroke-width="1.3"/>
<line x1="33.6" y1="239.4" x2="36.6" y2="239.4" stroke="#1a1a1a" stroke-width="1"/>
<line x1="33.6" y1="222.36" x2="36.6" y2="222.36" stroke="#1a1a1a" stroke-width="1"/>
<line x1="33.6" y1="205.32" x2="36.6" y2="205.32" stroke="#1a1a1a" stroke-width="1"/>
<line x1="33.6" y1="188.28" x2="36.6" y2="188.28" stroke="#1a1a1a" stroke-width="1"/>
<line x1="33.6" y1="171.24" x2="36.6" y2="171.24" stroke="#1a1a1a" stroke-width="1"/>
<line x1="35" y1="230.88" x2="36.6" y2="230.88" stroke="#1a1a1a" stroke-width="1"/>
<line x1="35" y1="213.84" x2="36.6" y2="213.84" stroke="#1a1a1a" stroke-width="1"/>
<line x1="35" y1="196.8" x2="36.6" y2="196.8" stroke="#1a1a1a" stroke-width="1"/>
<line x1="35" y1="179.76" x2="36.6" y2="179.76" stroke="#1a1a1a" stroke-width="1"/>
<line x1="36.6" y1="239.4" x2="36.6" y2="242" stroke="#1a1a1a" stroke-width="1"/>
<line x1="52.1" y1="239.4" x2="52.1" y2="242" stroke="#1a1a1a" stroke-width="1"/>
<line x1="67.6" y1="239.4" x2="67.6" y2="242" stroke="#1a1a1a" stroke-width="1"/>
<line x1="83.1" y1="239.4" x2="83.1" y2="242" stroke="#1a1a1a" stroke-width="1"/>
<line x1="98.6" y1="239.4" x2="98.6" y2="242" stroke="#1a1a1a" stroke-width="1"/>
<line x1="114.1" y1="239.4" x2="114.1" y2="242" stroke="#1a1a1a" stroke-width="1"/>
<line x1="129.6" y1="239.4" x2="129.6" y2="242" stroke="#1a1a1a" stroke-width="1"/>
<text x="30.7" y="225.26" font-size="8.5" fill="#1a1a1a" stroke="#1a1a1a" stroke-width="0.16" text-anchor="end" textLength="8.6" lengthAdjust="spacingAndGlyphs">20</text>
<text x="30.7" y="208.22" font-size="8.5" fill="#1a1a1a" stroke="#1a1a1a" stroke-width="0.16" text-anchor="end" textLength="8.6" lengthAdjust="spacingAndGlyphs">40</text>
<text x="30.7" y="191.18" font-size="8.5" fill="#1a1a1a" stroke="#1a1a1a" stroke-width="0.16" text-anchor="end" textLength="8.6" lengthAdjust="spacingAndGlyphs">60</text>
<text x="30.7" y="174.14" font-size="8.5" fill="#1a1a1a" stroke="#1a1a1a" stroke-width="0.16" text-anchor="end" textLength="8.6" lengthAdjust="spacingAndGlyphs">80</text>
<text x="30.7" y="242.3" font-size="8.5" fill="#1a1a1a" stroke="#1a1a1a" stroke-width="0.16" text-anchor="end" textLength="4" lengthAdjust="spacingAndGlyphs">0</text>
<text x="36.6" y="252.2" font-size="8.5" fill="#1a1a1a" stroke="#1a1a1a" stroke-width="0.16" text-anchor="middle" textLength="4.2" lengthAdjust="spacingAndGlyphs">0</text>
<text x="52.1" y="252.2" font-size="8.5" fill="#1a1a1a" stroke="#1a1a1a" stroke-width="0.16" text-anchor="middle" textLength="4.2" lengthAdjust="spacingAndGlyphs">4</text>
<text x="67.6" y="252.2" font-size="8.5" fill="#1a1a1a" stroke="#1a1a1a" stroke-width="0.16" text-anchor="middle" textLength="4.2" lengthAdjust="spacingAndGlyphs">8</text>
<text x="83.1" y="252.2" font-size="8.5" fill="#1a1a1a" stroke="#1a1a1a" stroke-width="0.16" text-anchor="middle" textLength="8.6" lengthAdjust="spacingAndGlyphs">12</text>
<text x="98.6" y="252.2" font-size="8.5" fill="#1a1a1a" stroke="#1a1a1a" stroke-width="0.16" text-anchor="middle" textLength="8.6" lengthAdjust="spacingAndGlyphs">16</text>
<text x="114.1" y="252.2" font-size="8.5" fill="#1a1a1a" stroke="#1a1a1a" stroke-width="0.16" text-anchor="middle" textLength="8.6" lengthAdjust="spacingAndGlyphs">20</text>
<text x="129.6" y="252.2" font-size="8.5" fill="#1a1a1a" stroke="#1a1a1a" stroke-width="0.16" text-anchor="middle" textLength="8.6" lengthAdjust="spacingAndGlyphs">24</text>
<polyline points="52.1,237.27 67.6,238.89 114.1,239.23" fill="none" stroke="#a80c38" stroke-width="1.5" stroke-linejoin="round"/>
<circle cx="52.1" cy="237.27" r="1.7" fill="#a80c38"/>
<circle cx="67.6" cy="238.89" r="1.7" fill="#a80c38"/>
<circle cx="114.1" cy="239.23" r="1.7" fill="#a80c38"/>
<polyline points="52.1,219.38 67.6,219.38 98.6,215.97 114.1,215.03 129.6,213.16" fill="none" stroke="#28467e" stroke-width="1.5" stroke-linejoin="round"/>
<line x1="52.1" y1="217.5" x2="52.1" y2="221.25" stroke="#28467e" stroke-width="0.9"/>
<line x1="50.5" y1="217.5" x2="53.7" y2="217.5" stroke="#28467e" stroke-width="1"/>
<line x1="50.5" y1="221.25" x2="53.7" y2="221.25" stroke="#28467e" stroke-width="1"/>
<circle cx="52.1" cy="219.38" r="1.7" fill="#28467e"/>
<line x1="67.6" y1="214.69" x2="67.6" y2="224.06" stroke="#28467e" stroke-width="0.9"/>
<line x1="66" y1="214.69" x2="69.2" y2="214.69" stroke="#28467e" stroke-width="1"/>
<line x1="66" y1="224.06" x2="69.2" y2="224.06" stroke="#28467e" stroke-width="1"/>
<circle cx="67.6" cy="219.38" r="1.7" fill="#28467e"/>
<line x1="98.6" y1="210.01" x2="98.6" y2="221.93" stroke="#28467e" stroke-width="0.9"/>
<line x1="97" y1="210.01" x2="100.2" y2="210.01" stroke="#28467e" stroke-width="1"/>
<line x1="97" y1="221.93" x2="100.2" y2="221.93" stroke="#28467e" stroke-width="1"/>
<circle cx="98.6" cy="215.97" r="1.7" fill="#28467e"/>
<line x1="114.1" y1="208.81" x2="114.1" y2="221.25" stroke="#28467e" stroke-width="0.9"/>
<line x1="112.5" y1="208.81" x2="115.7" y2="208.81" stroke="#28467e" stroke-width="1"/>
<line x1="112.5" y1="221.25" x2="115.7" y2="221.25" stroke="#28467e" stroke-width="1"/>
<circle cx="114.1" cy="215.03" r="1.7" fill="#28467e"/>
<line x1="129.6" y1="207.02" x2="129.6" y2="219.29" stroke="#28467e" stroke-width="0.9"/>
<line x1="128" y1="207.02" x2="131.2" y2="207.02" stroke="#28467e" stroke-width="1"/>
<line x1="128" y1="219.29" x2="131.2" y2="219.29" stroke="#28467e" stroke-width="1"/>
<circle cx="129.6" cy="213.16" r="1.7" fill="#28467e"/>
<polyline points="52.1,203.02 67.6,196.37 98.6,193.73 114.1,193.22 129.6,196.63" fill="none" stroke="#64a63c" stroke-width="1.5" stroke-linejoin="round"/>
<line x1="52.1" y1="198.93" x2="52.1" y2="207.11" stroke="#64a63c" stroke-width="0.9"/>
<line x1="50.5" y1="198.93" x2="53.7" y2="198.93" stroke="#64a63c" stroke-width="1"/>
<line x1="50.5" y1="207.11" x2="53.7" y2="207.11" stroke="#64a63c" stroke-width="1"/>
<circle cx="52.1" cy="203.02" r="1.7" fill="#64a63c"/>
<line x1="67.6" y1="192.11" x2="67.6" y2="200.63" stroke="#64a63c" stroke-width="0.9"/>
<line x1="66" y1="192.11" x2="69.2" y2="192.11" stroke="#64a63c" stroke-width="1"/>
<line x1="66" y1="200.63" x2="69.2" y2="200.63" stroke="#64a63c" stroke-width="1"/>
<circle cx="67.6" cy="196.37" r="1.7" fill="#64a63c"/>
<line x1="98.6" y1="189.73" x2="98.6" y2="197.74" stroke="#64a63c" stroke-width="0.9"/>
<line x1="97" y1="189.73" x2="100.2" y2="189.73" stroke="#64a63c" stroke-width="1"/>
<line x1="97" y1="197.74" x2="100.2" y2="197.74" stroke="#64a63c" stroke-width="1"/>
<circle cx="98.6" cy="193.73" r="1.7" fill="#64a63c"/>
<line x1="114.1" y1="188.19" x2="114.1" y2="198.25" stroke="#64a63c" stroke-width="0.9"/>
<line x1="112.5" y1="188.19" x2="115.7" y2="188.19" stroke="#64a63c" stroke-width="1"/>
<line x1="112.5" y1="198.25" x2="115.7" y2="198.25" stroke="#64a63c" stroke-width="1"/>
<circle cx="114.1" cy="193.22" r="1.7" fill="#64a63c"/>
<line x1="129.6" y1="189.81" x2="129.6" y2="203.45" stroke="#64a63c" stroke-width="0.9"/>
<line x1="128" y1="189.81" x2="131.2" y2="189.81" stroke="#64a63c" stroke-width="1"/>
<line x1="128" y1="203.45" x2="131.2" y2="203.45" stroke="#64a63c" stroke-width="1"/>
<circle cx="129.6" cy="196.63" r="1.7" fill="#64a63c"/>
<path d="M48.1,211.6L48.1,214.4M49.31,212.3L46.89,213.7M49.31,213.7L46.89,212.3" stroke="#28467e" stroke-width="0.8" fill="none"/>
<path d="M52.1,211.6L52.1,214.4M53.31,212.3L50.89,213.7M53.31,213.7L50.89,212.3" stroke="#28467e" stroke-width="0.8" fill="none"/>
<path d="M56.1,211.6L56.1,214.4M57.31,212.3L54.89,213.7M57.31,213.7L54.89,212.3" stroke="#28467e" stroke-width="0.8" fill="none"/>
<path d="M63.8,209.6L63.8,212.4M65.01,210.3L62.59,211.7M65.01,211.7L62.59,210.3" stroke="#28467e" stroke-width="0.8" fill="none"/>
<path d="M67.75,209.6L67.75,212.4M68.96,210.3L66.54,211.7M68.96,211.7L66.54,210.3" stroke="#28467e" stroke-width="0.8" fill="none"/>
<path d="M71.7,209.6L71.7,212.4M72.91,210.3L70.49,211.7M72.91,211.7L70.49,210.3" stroke="#28467e" stroke-width="0.8" fill="none"/>
<path d="M94.85,205.1L94.85,207.9M96.06,205.8L93.64,207.2M96.06,207.2L93.64,205.8" stroke="#28467e" stroke-width="0.8" fill="none"/>
<path d="M98.75,205.1L98.75,207.9M99.96,205.8L97.54,207.2M99.96,207.2L97.54,205.8" stroke="#28467e" stroke-width="0.8" fill="none"/>
<path d="M102.65,205.1L102.65,207.9M103.86,205.8L101.44,207.2M103.86,207.2L101.44,205.8" stroke="#28467e" stroke-width="0.8" fill="none"/>
<path d="M114.25,203.5L114.25,206.3M115.46,204.2L113.04,205.6M115.46,205.6L113.04,204.2" stroke="#28467e" stroke-width="0.8" fill="none"/>
<path d="M132.8,201.8L132.8,204.6M134.01,202.5L131.59,203.9M134.01,203.9L131.59,202.5" stroke="#28467e" stroke-width="0.8" fill="none"/>
<path d="M48.1,231.2L48.1,234M49.31,231.9L46.89,233.3M49.31,233.3L46.89,231.9" stroke="#a80c38" stroke-width="0.8" fill="none"/>
<path d="M52.1,231.2L52.1,234M53.31,231.9L50.89,233.3M53.31,233.3L50.89,231.9" stroke="#a80c38" stroke-width="0.8" fill="none"/>
<path d="M56.1,231.2L56.1,234M57.31,231.9L54.89,233.3M57.31,233.3L54.89,231.9" stroke="#a80c38" stroke-width="0.8" fill="none"/>
<path d="M63.8,232.25L63.8,235.05M65.01,232.95L62.59,234.35M65.01,234.35L62.59,232.95" stroke="#a80c38" stroke-width="0.8" fill="none"/>
<path d="M67.75,232.25L67.75,235.05M68.96,232.95L66.54,234.35M68.96,234.35L66.54,232.95" stroke="#a80c38" stroke-width="0.8" fill="none"/>
<path d="M71.7,232.25L71.7,235.05M72.91,232.95L70.49,234.35M72.91,234.35L70.49,232.95" stroke="#a80c38" stroke-width="0.8" fill="none"/>
<line x1="115.5" y1="233" x2="119.5" y2="233" stroke="#a80c38" stroke-width="0.7"/>
<line x1="117.5" y1="231.1" x2="117.5" y2="234.9" stroke="#a80c38" stroke-width="0.7"/>
<line x1="115.5" y1="235.3" x2="119.5" y2="235.3" stroke="#a80c38" stroke-width="0.7"/>
<line x1="167.3" y1="168.9" x2="167.3" y2="239.9" stroke="#1a1a1a" stroke-width="1.1"/>
<line x1="166.8" y1="239.4" x2="253.5" y2="239.4" stroke="#1a1a1a" stroke-width="1.3"/>
<line x1="164.3" y1="239.4" x2="167.3" y2="239.4" stroke="#1a1a1a" stroke-width="1"/>
<line x1="164.3" y1="222.36" x2="167.3" y2="222.36" stroke="#1a1a1a" stroke-width="1"/>
<line x1="164.3" y1="205.32" x2="167.3" y2="205.32" stroke="#1a1a1a" stroke-width="1"/>
<line x1="164.3" y1="188.28" x2="167.3" y2="188.28" stroke="#1a1a1a" stroke-width="1"/>
<line x1="164.3" y1="171.24" x2="167.3" y2="171.24" stroke="#1a1a1a" stroke-width="1"/>
<line x1="165.7" y1="230.88" x2="167.3" y2="230.88" stroke="#1a1a1a" stroke-width="1"/>
<line x1="165.7" y1="213.84" x2="167.3" y2="213.84" stroke="#1a1a1a" stroke-width="1"/>
<line x1="165.7" y1="196.8" x2="167.3" y2="196.8" stroke="#1a1a1a" stroke-width="1"/>
<line x1="165.7" y1="179.76" x2="167.3" y2="179.76" stroke="#1a1a1a" stroke-width="1"/>
<line x1="167.3" y1="239.4" x2="167.3" y2="242" stroke="#1a1a1a" stroke-width="1"/>
<line x1="184.2" y1="239.4" x2="184.2" y2="242" stroke="#1a1a1a" stroke-width="1"/>
<line x1="201.1" y1="239.4" x2="201.1" y2="242" stroke="#1a1a1a" stroke-width="1"/>
<line x1="218" y1="239.4" x2="218" y2="242" stroke="#1a1a1a" stroke-width="1"/>
<line x1="234.9" y1="239.4" x2="234.9" y2="242" stroke="#1a1a1a" stroke-width="1"/>
<line x1="251.8" y1="239.4" x2="251.8" y2="242" stroke="#1a1a1a" stroke-width="1"/>
<text x="161.4" y="225.26" font-size="8.5" fill="#1a1a1a" stroke="#1a1a1a" stroke-width="0.16" text-anchor="end" textLength="8.6" lengthAdjust="spacingAndGlyphs">20</text>
<text x="161.4" y="208.22" font-size="8.5" fill="#1a1a1a" stroke="#1a1a1a" stroke-width="0.16" text-anchor="end" textLength="8.6" lengthAdjust="spacingAndGlyphs">40</text>
<text x="161.4" y="191.18" font-size="8.5" fill="#1a1a1a" stroke="#1a1a1a" stroke-width="0.16" text-anchor="end" textLength="8.6" lengthAdjust="spacingAndGlyphs">60</text>
<text x="161.4" y="174.14" font-size="8.5" fill="#1a1a1a" stroke="#1a1a1a" stroke-width="0.16" text-anchor="end" textLength="8.6" lengthAdjust="spacingAndGlyphs">80</text>
<text x="161.4" y="242.3" font-size="8.5" fill="#1a1a1a" stroke="#1a1a1a" stroke-width="0.16" text-anchor="end" textLength="4" lengthAdjust="spacingAndGlyphs">0</text>
<text x="167.3" y="252.2" font-size="8.5" fill="#1a1a1a" stroke="#1a1a1a" stroke-width="0.16" text-anchor="middle" textLength="8.6" lengthAdjust="spacingAndGlyphs">28</text>
<text x="184.2" y="252.2" font-size="8.5" fill="#1a1a1a" stroke="#1a1a1a" stroke-width="0.16" text-anchor="middle" textLength="8.6" lengthAdjust="spacingAndGlyphs">32</text>
<text x="201.1" y="252.2" font-size="8.5" fill="#1a1a1a" stroke="#1a1a1a" stroke-width="0.16" text-anchor="middle" textLength="8.6" lengthAdjust="spacingAndGlyphs">36</text>
<text x="218" y="252.2" font-size="8.5" fill="#1a1a1a" stroke="#1a1a1a" stroke-width="0.16" text-anchor="middle" textLength="8.6" lengthAdjust="spacingAndGlyphs">40</text>
<text x="234.9" y="252.2" font-size="8.5" fill="#1a1a1a" stroke="#1a1a1a" stroke-width="0.16" text-anchor="middle" textLength="8.6" lengthAdjust="spacingAndGlyphs">44</text>
<text x="251.8" y="252.2" font-size="8.5" fill="#1a1a1a" stroke="#1a1a1a" stroke-width="0.16" text-anchor="middle" textLength="8.6" lengthAdjust="spacingAndGlyphs">48</text>
<polyline points="184.2,224.49 218,219.97 251.8,218.78" fill="none" stroke="#28467e" stroke-width="1.5" stroke-linejoin="round"/>
<line x1="184.2" y1="220.74" x2="184.2" y2="228.24" stroke="#28467e" stroke-width="0.9"/>
<line x1="182.6" y1="220.74" x2="185.8" y2="220.74" stroke="#28467e" stroke-width="1"/>
<line x1="182.6" y1="228.24" x2="185.8" y2="228.24" stroke="#28467e" stroke-width="1"/>
<circle cx="184.2" cy="224.49" r="1.7" fill="#28467e"/>
<line x1="218" y1="214.95" x2="218" y2="225" stroke="#28467e" stroke-width="0.9"/>
<line x1="216.4" y1="214.95" x2="219.6" y2="214.95" stroke="#28467e" stroke-width="1"/>
<line x1="216.4" y1="225" x2="219.6" y2="225" stroke="#28467e" stroke-width="1"/>
<circle cx="218" cy="219.97" r="1.7" fill="#28467e"/>
<line x1="251.8" y1="213.41" x2="251.8" y2="224.15" stroke="#28467e" stroke-width="0.9"/>
<line x1="250.2" y1="213.41" x2="253.4" y2="213.41" stroke="#28467e" stroke-width="1"/>
<line x1="250.2" y1="224.15" x2="253.4" y2="224.15" stroke="#28467e" stroke-width="1"/>
<circle cx="251.8" cy="218.78" r="1.7" fill="#28467e"/>
<polyline points="184.2,209.92 218,204.98 251.8,207.96" fill="none" stroke="#64a63c" stroke-width="1.5" stroke-linejoin="round"/>
<line x1="184.2" y1="200.89" x2="184.2" y2="218.95" stroke="#64a63c" stroke-width="0.9"/>
<line x1="182.6" y1="200.89" x2="185.8" y2="200.89" stroke="#64a63c" stroke-width="1"/>
<line x1="182.6" y1="218.95" x2="185.8" y2="218.95" stroke="#64a63c" stroke-width="1"/>
<circle cx="184.2" cy="209.92" r="1.7" fill="#64a63c"/>
<line x1="218" y1="195.18" x2="218" y2="214.78" stroke="#64a63c" stroke-width="0.9"/>
<line x1="216.4" y1="195.18" x2="219.6" y2="195.18" stroke="#64a63c" stroke-width="1"/>
<line x1="216.4" y1="214.78" x2="219.6" y2="214.78" stroke="#64a63c" stroke-width="1"/>
<circle cx="218" cy="204.98" r="1.7" fill="#64a63c"/>
<line x1="251.8" y1="198.84" x2="251.8" y2="217.08" stroke="#64a63c" stroke-width="0.9"/>
<line x1="250.2" y1="198.84" x2="253.4" y2="198.84" stroke="#64a63c" stroke-width="1"/>
<line x1="250.2" y1="217.08" x2="253.4" y2="217.08" stroke="#64a63c" stroke-width="1"/>
<circle cx="251.8" cy="207.96" r="1.7" fill="#64a63c"/>
<line x1="290.5" y1="168.9" x2="290.5" y2="239.9" stroke="#1a1a1a" stroke-width="1.1"/>
<line x1="290" y1="239.4" x2="386.5" y2="239.4" stroke="#1a1a1a" stroke-width="1.3"/>
<line x1="287.5" y1="239.4" x2="290.5" y2="239.4" stroke="#1a1a1a" stroke-width="1"/>
<line x1="287.5" y1="222.36" x2="290.5" y2="222.36" stroke="#1a1a1a" stroke-width="1"/>
<line x1="287.5" y1="205.32" x2="290.5" y2="205.32" stroke="#1a1a1a" stroke-width="1"/>
<line x1="287.5" y1="188.28" x2="290.5" y2="188.28" stroke="#1a1a1a" stroke-width="1"/>
<line x1="287.5" y1="171.24" x2="290.5" y2="171.24" stroke="#1a1a1a" stroke-width="1"/>
<line x1="288.9" y1="230.88" x2="290.5" y2="230.88" stroke="#1a1a1a" stroke-width="1"/>
<line x1="288.9" y1="213.84" x2="290.5" y2="213.84" stroke="#1a1a1a" stroke-width="1"/>
<line x1="288.9" y1="196.8" x2="290.5" y2="196.8" stroke="#1a1a1a" stroke-width="1"/>
<line x1="288.9" y1="179.76" x2="290.5" y2="179.76" stroke="#1a1a1a" stroke-width="1"/>
<line x1="290.5" y1="239.4" x2="290.5" y2="242" stroke="#1a1a1a" stroke-width="1"/>
<line x1="306.05" y1="239.4" x2="306.05" y2="242" stroke="#1a1a1a" stroke-width="1"/>
<line x1="321.6" y1="239.4" x2="321.6" y2="242" stroke="#1a1a1a" stroke-width="1"/>
<line x1="337.15" y1="239.4" x2="337.15" y2="242" stroke="#1a1a1a" stroke-width="1"/>
<line x1="352.7" y1="239.4" x2="352.7" y2="242" stroke="#1a1a1a" stroke-width="1"/>
<line x1="368.25" y1="239.4" x2="368.25" y2="242" stroke="#1a1a1a" stroke-width="1"/>
<line x1="383.8" y1="239.4" x2="383.8" y2="242" stroke="#1a1a1a" stroke-width="1"/>
<text x="284.6" y="225.26" font-size="8.5" fill="#1a1a1a" stroke="#1a1a1a" stroke-width="0.16" text-anchor="end" textLength="8.6" lengthAdjust="spacingAndGlyphs">20</text>
<text x="284.6" y="208.22" font-size="8.5" fill="#1a1a1a" stroke="#1a1a1a" stroke-width="0.16" text-anchor="end" textLength="8.6" lengthAdjust="spacingAndGlyphs">40</text>
<text x="284.6" y="191.18" font-size="8.5" fill="#1a1a1a" stroke="#1a1a1a" stroke-width="0.16" text-anchor="end" textLength="8.6" lengthAdjust="spacingAndGlyphs">60</text>
<text x="284.6" y="174.14" font-size="8.5" fill="#1a1a1a" stroke="#1a1a1a" stroke-width="0.16" text-anchor="end" textLength="8.6" lengthAdjust="spacingAndGlyphs">80</text>
<text x="284.6" y="242.3" font-size="8.5" fill="#1a1a1a" stroke="#1a1a1a" stroke-width="0.16" text-anchor="end" textLength="4" lengthAdjust="spacingAndGlyphs">0</text>
<text x="290.5" y="252.2" font-size="8.5" fill="#1a1a1a" stroke="#1a1a1a" stroke-width="0.16" text-anchor="middle" textLength="4.2" lengthAdjust="spacingAndGlyphs">0</text>
<text x="306.05" y="252.2" font-size="8.5" fill="#1a1a1a" stroke="#1a1a1a" stroke-width="0.16" text-anchor="middle" textLength="4.2" lengthAdjust="spacingAndGlyphs">4</text>
<text x="321.6" y="252.2" font-size="8.5" fill="#1a1a1a" stroke="#1a1a1a" stroke-width="0.16" text-anchor="middle" textLength="4.2" lengthAdjust="spacingAndGlyphs">8</text>
<text x="337.15" y="252.2" font-size="8.5" fill="#1a1a1a" stroke="#1a1a1a" stroke-width="0.16" text-anchor="middle" textLength="8.6" lengthAdjust="spacingAndGlyphs">12</text>
<text x="352.7" y="252.2" font-size="8.5" fill="#1a1a1a" stroke="#1a1a1a" stroke-width="0.16" text-anchor="middle" textLength="8.6" lengthAdjust="spacingAndGlyphs">16</text>
<text x="368.25" y="252.2" font-size="8.5" fill="#1a1a1a" stroke="#1a1a1a" stroke-width="0.16" text-anchor="middle" textLength="8.6" lengthAdjust="spacingAndGlyphs">20</text>
<text x="383.8" y="252.2" font-size="8.5" fill="#1a1a1a" stroke="#1a1a1a" stroke-width="0.16" text-anchor="middle" textLength="8.6" lengthAdjust="spacingAndGlyphs">24</text>
<polyline points="306.05,237.53 321.6,239.23 368.25,239.23" fill="none" stroke="#a80c38" stroke-width="1.5" stroke-linejoin="round"/>
<circle cx="306.05" cy="237.53" r="1.7" fill="#a80c38"/>
<circle cx="321.6" cy="239.23" r="1.7" fill="#a80c38"/>
<circle cx="368.25" cy="239.23" r="1.7" fill="#a80c38"/>
<polyline points="306.05,233.78 321.6,231.99 352.7,231.22 368.25,231.99 383.8,233.01" fill="none" stroke="#28467e" stroke-width="1.5" stroke-linejoin="round"/>
<circle cx="306.05" cy="233.78" r="1.7" fill="#28467e"/>
<circle cx="321.6" cy="231.99" r="1.7" fill="#28467e"/>
<line x1="352.7" y1="228.75" x2="352.7" y2="233.69" stroke="#28467e" stroke-width="0.9"/>
<line x1="351.1" y1="228.75" x2="354.3" y2="228.75" stroke="#28467e" stroke-width="1"/>
<line x1="351.1" y1="233.69" x2="354.3" y2="233.69" stroke="#28467e" stroke-width="1"/>
<circle cx="352.7" cy="231.22" r="1.7" fill="#28467e"/>
<circle cx="368.25" cy="231.99" r="1.7" fill="#28467e"/>
<circle cx="383.8" cy="233.01" r="1.7" fill="#28467e"/>
<polyline points="306.05,230.03 321.6,220.74 352.7,216.99 368.25,216.23 383.8,216.74" fill="none" stroke="#64a63c" stroke-width="1.5" stroke-linejoin="round"/>
<line x1="306.05" y1="227.98" x2="306.05" y2="232.07" stroke="#64a63c" stroke-width="0.9"/>
<line x1="304.45" y1="227.98" x2="307.65" y2="227.98" stroke="#64a63c" stroke-width="1"/>
<line x1="304.45" y1="232.07" x2="307.65" y2="232.07" stroke="#64a63c" stroke-width="1"/>
<circle cx="306.05" cy="230.03" r="1.7" fill="#64a63c"/>
<line x1="321.6" y1="218.01" x2="321.6" y2="223.47" stroke="#64a63c" stroke-width="0.9"/>
<line x1="320" y1="218.01" x2="323.2" y2="218.01" stroke="#64a63c" stroke-width="1"/>
<line x1="320" y1="223.47" x2="323.2" y2="223.47" stroke="#64a63c" stroke-width="1"/>
<circle cx="321.6" cy="220.74" r="1.7" fill="#64a63c"/>
<line x1="352.7" y1="214.44" x2="352.7" y2="219.55" stroke="#64a63c" stroke-width="0.9"/>
<line x1="351.1" y1="214.44" x2="354.3" y2="214.44" stroke="#64a63c" stroke-width="1"/>
<line x1="351.1" y1="219.55" x2="354.3" y2="219.55" stroke="#64a63c" stroke-width="1"/>
<circle cx="352.7" cy="216.99" r="1.7" fill="#64a63c"/>
<line x1="368.25" y1="213.5" x2="368.25" y2="218.95" stroke="#64a63c" stroke-width="0.9"/>
<line x1="366.65" y1="213.5" x2="369.85" y2="213.5" stroke="#64a63c" stroke-width="1"/>
<line x1="366.65" y1="218.95" x2="369.85" y2="218.95" stroke="#64a63c" stroke-width="1"/>
<circle cx="368.25" cy="216.23" r="1.7" fill="#64a63c"/>
<line x1="383.8" y1="213.16" x2="383.8" y2="220.32" stroke="#64a63c" stroke-width="0.9"/>
<line x1="382.2" y1="213.16" x2="385.4" y2="213.16" stroke="#64a63c" stroke-width="1"/>
<line x1="382.2" y1="220.32" x2="385.4" y2="220.32" stroke="#64a63c" stroke-width="1"/>
<circle cx="383.8" cy="216.74" r="1.7" fill="#64a63c"/>
<path d="M317.1,226.35L317.1,229.15M318.31,227.05L315.89,228.45M318.31,228.45L315.89,227.05" stroke="#28467e" stroke-width="0.8" fill="none"/>
<path d="M321,226.35L321,229.15M322.21,227.05L319.79,228.45M322.21,228.45L319.79,227.05" stroke="#28467e" stroke-width="0.8" fill="none"/>
<path d="M324.9,226.35L324.9,229.15M326.11,227.05L323.69,228.45M326.11,228.45L323.69,227.05" stroke="#28467e" stroke-width="0.8" fill="none"/>
<path d="M348.6,224.6L348.6,227.4M349.81,225.3L347.39,226.7M349.81,226.7L347.39,225.3" stroke="#28467e" stroke-width="0.8" fill="none"/>
<path d="M352.5,224.6L352.5,227.4M353.71,225.3L351.29,226.7M353.71,226.7L351.29,225.3" stroke="#28467e" stroke-width="0.8" fill="none"/>
<path d="M356.4,224.6L356.4,227.4M357.61,225.3L355.19,226.7M357.61,226.7L355.19,225.3" stroke="#28467e" stroke-width="0.8" fill="none"/>
<path d="M364.1,225.72L364.1,228.53M365.31,226.43L362.89,227.82M365.31,227.82L362.89,226.43" stroke="#28467e" stroke-width="0.8" fill="none"/>
<path d="M368,225.72L368,228.53M369.21,226.43L366.79,227.82M369.21,227.82L366.79,226.43" stroke="#28467e" stroke-width="0.8" fill="none"/>
<path d="M371.9,225.72L371.9,228.53M373.11,226.43L370.69,227.82M373.11,227.82L370.69,226.43" stroke="#28467e" stroke-width="0.8" fill="none"/>
<path d="M379.1,226.35L379.1,229.15M380.31,227.05L377.89,228.45M380.31,228.45L377.89,227.05" stroke="#28467e" stroke-width="0.8" fill="none"/>
<path d="M383,226.35L383,229.15M384.21,227.05L381.79,228.45M384.21,228.45L381.79,227.05" stroke="#28467e" stroke-width="0.8" fill="none"/>
<path d="M386.9,226.35L386.9,229.15M388.11,227.05L385.69,228.45M388.11,228.45L385.69,227.05" stroke="#28467e" stroke-width="0.8" fill="none"/>
<path d="M317.1,233.97L317.1,236.78M318.31,234.68L315.89,236.07M318.31,236.07L315.89,234.68" stroke="#a80c38" stroke-width="0.8" fill="none"/>
<path d="M321,233.97L321,236.78M322.21,234.68L319.79,236.07M322.21,236.07L319.79,234.68" stroke="#a80c38" stroke-width="0.8" fill="none"/>
<path d="M324.9,233.97L324.9,236.78M326.11,234.68L323.69,236.07M326.11,236.07L323.69,234.68" stroke="#a80c38" stroke-width="0.8" fill="none"/>
<line x1="369.3" y1="235.4" x2="373.3" y2="235.4" stroke="#a80c38" stroke-width="0.7"/>
<line x1="371.3" y1="233.5" x2="371.3" y2="237.3" stroke="#a80c38" stroke-width="0.7"/>
<line x1="369.3" y1="237.7" x2="373.3" y2="237.7" stroke="#a80c38" stroke-width="0.7"/>
<line x1="422.5" y1="168.9" x2="422.5" y2="239.9" stroke="#1a1a1a" stroke-width="1.1"/>
<line x1="422" y1="239.4" x2="510" y2="239.4" stroke="#1a1a1a" stroke-width="1.3"/>
<line x1="419.5" y1="239.4" x2="422.5" y2="239.4" stroke="#1a1a1a" stroke-width="1"/>
<line x1="419.5" y1="222.36" x2="422.5" y2="222.36" stroke="#1a1a1a" stroke-width="1"/>
<line x1="419.5" y1="205.32" x2="422.5" y2="205.32" stroke="#1a1a1a" stroke-width="1"/>
<line x1="419.5" y1="188.28" x2="422.5" y2="188.28" stroke="#1a1a1a" stroke-width="1"/>
<line x1="419.5" y1="171.24" x2="422.5" y2="171.24" stroke="#1a1a1a" stroke-width="1"/>
<line x1="420.9" y1="230.88" x2="422.5" y2="230.88" stroke="#1a1a1a" stroke-width="1"/>
<line x1="420.9" y1="213.84" x2="422.5" y2="213.84" stroke="#1a1a1a" stroke-width="1"/>
<line x1="420.9" y1="196.8" x2="422.5" y2="196.8" stroke="#1a1a1a" stroke-width="1"/>
<line x1="420.9" y1="179.76" x2="422.5" y2="179.76" stroke="#1a1a1a" stroke-width="1"/>
<line x1="422.5" y1="239.4" x2="422.5" y2="242" stroke="#1a1a1a" stroke-width="1"/>
<line x1="439.5" y1="239.4" x2="439.5" y2="242" stroke="#1a1a1a" stroke-width="1"/>
<line x1="456.5" y1="239.4" x2="456.5" y2="242" stroke="#1a1a1a" stroke-width="1"/>
<line x1="473.5" y1="239.4" x2="473.5" y2="242" stroke="#1a1a1a" stroke-width="1"/>
<line x1="490.5" y1="239.4" x2="490.5" y2="242" stroke="#1a1a1a" stroke-width="1"/>
<line x1="507.5" y1="239.4" x2="507.5" y2="242" stroke="#1a1a1a" stroke-width="1"/>
<text x="416.6" y="225.26" font-size="8.5" fill="#1a1a1a" stroke="#1a1a1a" stroke-width="0.16" text-anchor="end" textLength="8.6" lengthAdjust="spacingAndGlyphs">20</text>
<text x="416.6" y="208.22" font-size="8.5" fill="#1a1a1a" stroke="#1a1a1a" stroke-width="0.16" text-anchor="end" textLength="8.6" lengthAdjust="spacingAndGlyphs">40</text>
<text x="416.6" y="191.18" font-size="8.5" fill="#1a1a1a" stroke="#1a1a1a" stroke-width="0.16" text-anchor="end" textLength="8.6" lengthAdjust="spacingAndGlyphs">60</text>
<text x="416.6" y="174.14" font-size="8.5" fill="#1a1a1a" stroke="#1a1a1a" stroke-width="0.16" text-anchor="end" textLength="8.6" lengthAdjust="spacingAndGlyphs">80</text>
<text x="416.6" y="242.3" font-size="8.5" fill="#1a1a1a" stroke="#1a1a1a" stroke-width="0.16" text-anchor="end" textLength="4" lengthAdjust="spacingAndGlyphs">0</text>
<text x="422.5" y="252.2" font-size="8.5" fill="#1a1a1a" stroke="#1a1a1a" stroke-width="0.16" text-anchor="middle" textLength="8.6" lengthAdjust="spacingAndGlyphs">28</text>
<text x="439.5" y="252.2" font-size="8.5" fill="#1a1a1a" stroke="#1a1a1a" stroke-width="0.16" text-anchor="middle" textLength="8.6" lengthAdjust="spacingAndGlyphs">32</text>
<text x="456.5" y="252.2" font-size="8.5" fill="#1a1a1a" stroke="#1a1a1a" stroke-width="0.16" text-anchor="middle" textLength="8.6" lengthAdjust="spacingAndGlyphs">36</text>
<text x="473.5" y="252.2" font-size="8.5" fill="#1a1a1a" stroke="#1a1a1a" stroke-width="0.16" text-anchor="middle" textLength="8.6" lengthAdjust="spacingAndGlyphs">40</text>
<text x="490.5" y="252.2" font-size="8.5" fill="#1a1a1a" stroke="#1a1a1a" stroke-width="0.16" text-anchor="middle" textLength="8.6" lengthAdjust="spacingAndGlyphs">44</text>
<text x="507.5" y="252.2" font-size="8.5" fill="#1a1a1a" stroke="#1a1a1a" stroke-width="0.16" text-anchor="middle" textLength="8.6" lengthAdjust="spacingAndGlyphs">48</text>
<polyline points="439.5,237.01 473.5,234.5 507.5,233.78" fill="none" stroke="#28467e" stroke-width="1.5" stroke-linejoin="round"/>
<circle cx="439.5" cy="237.01" r="1.7" fill="#28467e"/>
<circle cx="473.5" cy="234.5" r="1.7" fill="#28467e"/>
<line x1="507.5" y1="231.31" x2="507.5" y2="236.25" stroke="#28467e" stroke-width="0.9"/>
<line x1="505.9" y1="231.31" x2="509.1" y2="231.31" stroke="#28467e" stroke-width="1"/>
<line x1="505.9" y1="236.25" x2="509.1" y2="236.25" stroke="#28467e" stroke-width="1"/>
<circle cx="507.5" cy="233.78" r="1.7" fill="#28467e"/>
<polyline points="439.5,223.21 473.5,212.99 507.5,215.2" fill="none" stroke="#64a63c" stroke-width="1.5" stroke-linejoin="round"/>
<line x1="439.5" y1="219.46" x2="439.5" y2="226.96" stroke="#64a63c" stroke-width="0.9"/>
<line x1="437.9" y1="219.46" x2="441.1" y2="219.46" stroke="#64a63c" stroke-width="1"/>
<line x1="437.9" y1="226.96" x2="441.1" y2="226.96" stroke="#64a63c" stroke-width="1"/>
<circle cx="439.5" cy="223.21" r="1.7" fill="#64a63c"/>
<line x1="473.5" y1="205.83" x2="473.5" y2="220.14" stroke="#64a63c" stroke-width="0.9"/>
<line x1="471.9" y1="205.83" x2="475.1" y2="205.83" stroke="#64a63c" stroke-width="1"/>
<line x1="471.9" y1="220.14" x2="475.1" y2="220.14" stroke="#64a63c" stroke-width="1"/>
<circle cx="473.5" cy="212.99" r="1.7" fill="#64a63c"/>
<line x1="507.5" y1="208.98" x2="507.5" y2="221.42" stroke="#64a63c" stroke-width="0.9"/>
<line x1="505.9" y1="208.98" x2="509.1" y2="208.98" stroke="#64a63c" stroke-width="1"/>
<line x1="505.9" y1="221.42" x2="509.1" y2="221.42" stroke="#64a63c" stroke-width="1"/>
<circle cx="507.5" cy="215.2" r="1.7" fill="#64a63c"/>
<path d="M437.1,230.1L437.1,232.9M438.31,230.8L435.89,232.2M438.31,232.2L435.89,230.8" stroke="#28467e" stroke-width="0.8" fill="none"/>
<path d="M441.4,230.1L441.4,232.9M442.61,230.8L440.19,232.2M442.61,232.2L440.19,230.8" stroke="#28467e" stroke-width="0.8" fill="none"/>
<path d="M471.6,227.1L471.6,229.9M472.81,227.8L470.39,229.2M472.81,229.2L470.39,227.8" stroke="#28467e" stroke-width="0.8" fill="none"/>
<path d="M475.9,227.1L475.9,229.9M477.11,227.8L474.69,229.2M477.11,229.2L474.69,227.8" stroke="#28467e" stroke-width="0.8" fill="none"/>
<path d="M507,226.1L507,228.9M508.21,226.8L505.79,228.2M508.21,228.2L505.79,226.8" stroke="#28467e" stroke-width="0.8" fill="none"/>
<text x="85" y="154.25" font-size="9.5" fill="#1a1a1a" stroke="#1a1a1a" stroke-width="0.16" text-anchor="middle" textLength="32.6" lengthAdjust="spacingAndGlyphs">Primary</text>
<text x="84.38" y="166.25" font-size="9.5" fill="#1a1a1a" stroke="#1a1a1a" stroke-width="0.16" text-anchor="middle" textLength="27.85" lengthAdjust="spacingAndGlyphs">B220+</text>
<text x="210.88" y="154.25" font-size="9.5" fill="#1a1a1a" stroke="#1a1a1a" stroke-width="0.16" text-anchor="middle" textLength="44.85" lengthAdjust="spacingAndGlyphs">Secondary</text>
<text x="211.25" y="166.25" font-size="9.5" fill="#1a1a1a" stroke="#1a1a1a" stroke-width="0.16" text-anchor="middle" textLength="28.1" lengthAdjust="spacingAndGlyphs">B220+</text>
<text x="338.25" y="154.25" font-size="9.5" fill="#1a1a1a" stroke="#1a1a1a" stroke-width="0.16" text-anchor="middle" textLength="33.1" lengthAdjust="spacingAndGlyphs">Primary</text>
<text x="337.5" y="166.25" font-size="9.5" fill="#1a1a1a" stroke="#1a1a1a" stroke-width="0.16" text-anchor="middle" textLength="24.6" lengthAdjust="spacingAndGlyphs">CD3+</text>
<text x="466.62" y="154.25" font-size="9.5" fill="#1a1a1a" stroke="#1a1a1a" stroke-width="0.16" text-anchor="middle" textLength="44.85" lengthAdjust="spacingAndGlyphs">Secondary</text>
<text x="466.62" y="166.25" font-size="9.5" fill="#1a1a1a" stroke="#1a1a1a" stroke-width="0.16" text-anchor="middle" textLength="26.35" lengthAdjust="spacingAndGlyphs">CD3+</text>
<text x="83.12" y="264.8" font-size="9.6" fill="#1a1a1a" stroke="#1a1a1a" stroke-width="0.16" text-anchor="middle" textLength="79.15" lengthAdjust="spacingAndGlyphs">Weeks (post transplant)</text>
<text x="209.38" y="264.8" font-size="9.6" fill="#1a1a1a" stroke="#1a1a1a" stroke-width="0.16" text-anchor="middle" textLength="79.15" lengthAdjust="spacingAndGlyphs">Weeks (post transplant)</text>
<text x="337.25" y="264.8" font-size="9.6" fill="#1a1a1a" stroke="#1a1a1a" stroke-width="0.16" text-anchor="middle" textLength="79.9" lengthAdjust="spacingAndGlyphs">Weeks (post transplant)</text>
<text x="465.25" y="264.8" font-size="9.6" fill="#1a1a1a" stroke="#1a1a1a" stroke-width="0.16" text-anchor="middle" textLength="78.9" lengthAdjust="spacingAndGlyphs">Weeks (post transplant)</text>
<text transform="translate(16.2,205.05) rotate(-90)" font-size="9" fill="#1a1a1a" text-anchor="middle" textLength="60.1" lengthAdjust="spacingAndGlyphs">% donor (CD45.2)</text>
<text transform="translate(147.6,205.28) rotate(-90)" font-size="9" fill="#1a1a1a" text-anchor="middle" textLength="58.75" lengthAdjust="spacingAndGlyphs">% donor (CD45.2)</text>
<text transform="translate(270.6,204.65) rotate(-90)" font-size="9" fill="#1a1a1a" text-anchor="middle" textLength="58.5" lengthAdjust="spacingAndGlyphs">% donor (CD45.2)</text>
<text transform="translate(402.4,204.65) rotate(-90)" font-size="9" fill="#1a1a1a" text-anchor="middle" textLength="58.5" lengthAdjust="spacingAndGlyphs">% donor (CD45.2)</text>
<text x="8.2" y="154.5" font-size="10" fill="#1a1a1a" font-weight="bold" stroke="#000" stroke-width="0.55" textLength="7.6" lengthAdjust="spacingAndGlyphs">C</text>
<text x="263.8" y="154.5" font-size="10" fill="#1a1a1a" font-weight="bold" stroke="#000" stroke-width="0.55" textLength="7.4" lengthAdjust="spacingAndGlyphs">D</text>
<line x1="143.75" y1="278" x2="153.75" y2="278" stroke="#64a63c" stroke-width="1.5"/>
<circle cx="148.75" cy="278" r="1.9" fill="#64a63c"/>
<line x1="225" y1="278" x2="235" y2="278" stroke="#28467e" stroke-width="1.5"/>
<circle cx="230" cy="278" r="1.9" fill="#28467e"/>
<line x1="303.75" y1="278" x2="313.75" y2="278" stroke="#a80c38" stroke-width="1.5"/>
<circle cx="308.75" cy="278" r="1.9" fill="#a80c38"/>
<text x="156.6" y="280.6" font-size="9" fill="#64a63c" stroke="#64a63c" stroke-width="0.16" textLength="16.2" lengthAdjust="spacingAndGlyphs">Stk4</text>
<text x="172.9" y="277.3" font-size="6.5" fill="#64a63c" stroke="#64a63c" stroke-width="0.16" textLength="9.8" lengthAdjust="spacingAndGlyphs">+/+</text>
<text x="183.2" y="280.6" font-size="9" fill="#64a63c" stroke="#64a63c" stroke-width="0.16" textLength="15.85" lengthAdjust="spacingAndGlyphs">Stk3</text>
<text x="199.2" y="277.3" font-size="6.5" fill="#64a63c" stroke="#64a63c" stroke-width="0.16" textLength="9.75" lengthAdjust="spacingAndGlyphs">+/+</text>
<text x="238.5" y="280.6" font-size="9" fill="#28467e" stroke="#28467e" stroke-width="0.16" textLength="16.4" lengthAdjust="spacingAndGlyphs">Stk4</text>
<text x="254.8" y="277.3" font-size="6.5" fill="#28467e" stroke="#28467e" stroke-width="0.16" textLength="6.6" lengthAdjust="spacingAndGlyphs">+/-</text>
<text x="262" y="280.6" font-size="9" fill="#28467e" stroke="#28467e" stroke-width="0.16" textLength="16.5" lengthAdjust="spacingAndGlyphs">Stk3</text>
<text x="279" y="277.3" font-size="6.5" fill="#28467e" stroke="#28467e" stroke-width="0.16" textLength="7.4" lengthAdjust="spacingAndGlyphs">+/-</text>
<text x="316.3" y="280.6" font-size="9" fill="#a80c38" stroke="#a80c38" stroke-width="0.16" textLength="16.3" lengthAdjust="spacingAndGlyphs">Stk4</text>
<text x="332.8" y="277.3" font-size="6.5" fill="#a80c38" stroke="#a80c38" stroke-width="0.16" textLength="5.1" lengthAdjust="spacingAndGlyphs">-/-</text>
<text x="338.5" y="280.6" font-size="9" fill="#a80c38" stroke="#a80c38" stroke-width="0.16" textLength="16.4" lengthAdjust="spacingAndGlyphs">Stk3</text>
<text x="355.2" y="277.3" font-size="6.5" fill="#a80c38" stroke="#a80c38" stroke-width="0.16" textLength="5.8" lengthAdjust="spacingAndGlyphs">-/-</text>
<line x1="36.8" y1="342" x2="36.8" y2="416.8" stroke="#1a1a1a" stroke-width="1.1"/>
<line x1="36.3" y1="416.2" x2="147.5" y2="416.2" stroke="#1a1a1a" stroke-width="1.5"/>
<line x1="34" y1="416.2" x2="36.8" y2="416.2" stroke="#1a1a1a" stroke-width="1"/>
<text x="30.8" y="419.1" font-size="8.5" fill="#1a1a1a" stroke="#1a1a1a" stroke-width="0.16" text-anchor="end" textLength="4" lengthAdjust="spacingAndGlyphs">0</text>
<line x1="34" y1="401.98" x2="36.8" y2="401.98" stroke="#1a1a1a" stroke-width="1"/>
<text x="30.8" y="404.88" font-size="8.5" fill="#1a1a1a" stroke="#1a1a1a" stroke-width="0.16" text-anchor="end" textLength="8.6" lengthAdjust="spacingAndGlyphs">10</text>
<line x1="34" y1="387.76" x2="36.8" y2="387.76" stroke="#1a1a1a" stroke-width="1"/>
<text x="30.8" y="390.66" font-size="8.5" fill="#1a1a1a" stroke="#1a1a1a" stroke-width="0.16" text-anchor="end" textLength="8.6" lengthAdjust="spacingAndGlyphs">20</text>
<line x1="34" y1="373.54" x2="36.8" y2="373.54" stroke="#1a1a1a" stroke-width="1"/>
<text x="30.8" y="376.44" font-size="8.5" fill="#1a1a1a" stroke="#1a1a1a" stroke-width="0.16" text-anchor="end" textLength="8.6" lengthAdjust="spacingAndGlyphs">30</text>
<line x1="34" y1="359.32" x2="36.8" y2="359.32" stroke="#1a1a1a" stroke-width="1"/>
<text x="30.8" y="362.22" font-size="8.5" fill="#1a1a1a" stroke="#1a1a1a" stroke-width="0.16" text-anchor="end" textLength="8.6" lengthAdjust="spacingAndGlyphs">40</text>
<line x1="34" y1="345.1" x2="36.8" y2="345.1" stroke="#1a1a1a" stroke-width="1"/>
<text x="30.8" y="348" font-size="8.5" fill="#1a1a1a" stroke="#1a1a1a" stroke-width="0.16" text-anchor="end" textLength="8.6" lengthAdjust="spacingAndGlyphs">50</text>
<rect x="48.3" y="363.1" width="32.1" height="53.1" fill="#d5d5d5"/>
<rect x="48.3" y="394.4" width="32.1" height="21.8" fill="#6aa644"/>
<line x1="64.35" y1="359.9" x2="64.35" y2="363.1" stroke="#333333" stroke-width="1.4"/>
<line x1="56.35" y1="359.9" x2="72.35" y2="359.9" stroke="#333333" stroke-width="1.5"/>
<line x1="64.35" y1="387.7" x2="64.35" y2="394.4" stroke="#333333" stroke-width="1.4"/>
<line x1="56.35" y1="387.7" x2="72.35" y2="387.7" stroke="#333333" stroke-width="1.5"/>
<rect x="103.75" y="365" width="31.75" height="51.2" fill="#d5d5d5"/>
<rect x="103.75" y="399.25" width="31.75" height="16.95" fill="#304a7a"/>
<line x1="119.62" y1="361.75" x2="119.62" y2="365" stroke="#333333" stroke-width="1.4"/>
<line x1="111.62" y1="361.75" x2="127.62" y2="361.75" stroke="#333333" stroke-width="1.5"/>
<line x1="119.62" y1="394.5" x2="119.62" y2="399.25" stroke="#333333" stroke-width="1.4"/>
<line x1="111.62" y1="394.5" x2="127.62" y2="394.5" stroke="#333333" stroke-width="1.5"/>
<line x1="187" y1="342" x2="187" y2="416.8" stroke="#1a1a1a" stroke-width="1.1"/>
<line x1="186.5" y1="416.2" x2="298" y2="416.2" stroke="#1a1a1a" stroke-width="1.5"/>
<line x1="184.2" y1="416.2" x2="187" y2="416.2" stroke="#1a1a1a" stroke-width="1"/>
<text x="181.5" y="419.1" font-size="8.5" fill="#1a1a1a" stroke="#1a1a1a" stroke-width="0.16" text-anchor="end" textLength="4" lengthAdjust="spacingAndGlyphs">0</text>
<line x1="184.2" y1="398.26" x2="187" y2="398.26" stroke="#1a1a1a" stroke-width="1"/>
<text x="181.5" y="401.16" font-size="8.5" fill="#1a1a1a" stroke="#1a1a1a" stroke-width="0.16" text-anchor="end" textLength="8.6" lengthAdjust="spacingAndGlyphs">25</text>
<line x1="184.2" y1="380.32" x2="187" y2="380.32" stroke="#1a1a1a" stroke-width="1"/>
<text x="181.5" y="383.22" font-size="8.5" fill="#1a1a1a" stroke="#1a1a1a" stroke-width="0.16" text-anchor="end" textLength="8.6" lengthAdjust="spacingAndGlyphs">50</text>
<line x1="184.2" y1="362.39" x2="187" y2="362.39" stroke="#1a1a1a" stroke-width="1"/>
<text x="181.5" y="365.29" font-size="8.5" fill="#1a1a1a" stroke="#1a1a1a" stroke-width="0.16" text-anchor="end" textLength="8.6" lengthAdjust="spacingAndGlyphs">75</text>
<line x1="184.2" y1="344.45" x2="187" y2="344.45" stroke="#1a1a1a" stroke-width="1"/>
<text x="181.5" y="347.35" font-size="8.5" fill="#1a1a1a" stroke="#1a1a1a" stroke-width="0.16" text-anchor="end" textLength="13" lengthAdjust="spacingAndGlyphs">100</text>
<rect x="198.75" y="368" width="32" height="48.2" fill="#d5d5d5"/>
<rect x="198.75" y="395.75" width="32" height="20.45" fill="#6aa644"/>
<line x1="214.75" y1="363.25" x2="214.75" y2="368" stroke="#333333" stroke-width="1.4"/>
<line x1="206.75" y1="363.25" x2="222.75" y2="363.25" stroke="#333333" stroke-width="1.5"/>
<line x1="214.75" y1="388.25" x2="214.75" y2="395.75" stroke="#333333" stroke-width="1.4"/>
<line x1="206.75" y1="388.25" x2="222.75" y2="388.25" stroke="#333333" stroke-width="1.5"/>
<rect x="254.25" y="366.25" width="32" height="49.95" fill="#d5d5d5"/>
<rect x="254.25" y="400.75" width="32" height="15.45" fill="#304a7a"/>
<line x1="270.25" y1="361.25" x2="270.25" y2="366.25" stroke="#333333" stroke-width="1.4"/>
<line x1="262.25" y1="361.25" x2="278.25" y2="361.25" stroke="#333333" stroke-width="1.5"/>
<line x1="270.25" y1="397.5" x2="270.25" y2="400.75" stroke="#333333" stroke-width="1.4"/>
<line x1="262.25" y1="397.5" x2="278.25" y2="397.5" stroke="#333333" stroke-width="1.5"/>
<line x1="36.8" y1="491.75" x2="36.8" y2="567.35" stroke="#1a1a1a" stroke-width="1.1"/>
<line x1="36.3" y1="566.75" x2="147.5" y2="566.75" stroke="#1a1a1a" stroke-width="1.5"/>
<line x1="34" y1="566.75" x2="36.8" y2="566.75" stroke="#1a1a1a" stroke-width="1"/>
<text x="30.8" y="569.65" font-size="8.5" fill="#1a1a1a" stroke="#1a1a1a" stroke-width="0.16" text-anchor="end" textLength="4" lengthAdjust="spacingAndGlyphs">0</text>
<line x1="34" y1="548.38" x2="36.8" y2="548.38" stroke="#1a1a1a" stroke-width="1"/>
<text x="30.8" y="551.27" font-size="8.5" fill="#1a1a1a" stroke="#1a1a1a" stroke-width="0.16" text-anchor="end" textLength="8.6" lengthAdjust="spacingAndGlyphs">20</text>
<line x1="34" y1="530" x2="36.8" y2="530" stroke="#1a1a1a" stroke-width="1"/>
<text x="30.8" y="532.9" font-size="8.5" fill="#1a1a1a" stroke="#1a1a1a" stroke-width="0.16" text-anchor="end" textLength="8.6" lengthAdjust="spacingAndGlyphs">40</text>
<line x1="34" y1="511.62" x2="36.8" y2="511.62" stroke="#1a1a1a" stroke-width="1"/>
<text x="30.8" y="514.52" font-size="8.5" fill="#1a1a1a" stroke="#1a1a1a" stroke-width="0.16" text-anchor="end" textLength="8.6" lengthAdjust="spacingAndGlyphs">60</text>
<line x1="34" y1="493.25" x2="36.8" y2="493.25" stroke="#1a1a1a" stroke-width="1"/>
<text x="30.8" y="496.15" font-size="8.5" fill="#1a1a1a" stroke="#1a1a1a" stroke-width="0.16" text-anchor="end" textLength="8.6" lengthAdjust="spacingAndGlyphs">80</text>
<rect x="48.3" y="517" width="32.1" height="49.75" fill="#d5d5d5"/>
<rect x="48.3" y="545.5" width="32.1" height="21.25" fill="#6aa644"/>
<line x1="64.35" y1="513.25" x2="64.35" y2="517" stroke="#333333" stroke-width="1.4"/>
<line x1="56.35" y1="513.25" x2="72.35" y2="513.25" stroke="#333333" stroke-width="1.5"/>
<line x1="64.35" y1="537.5" x2="64.35" y2="545.5" stroke="#333333" stroke-width="1.4"/>
<line x1="56.35" y1="537.5" x2="72.35" y2="537.5" stroke="#333333" stroke-width="1.5"/>
<rect x="103.75" y="528" width="31.75" height="38.75" fill="#d5d5d5"/>
<rect x="103.75" y="557.5" width="31.75" height="9.25" fill="#304a7a"/>
<line x1="119.62" y1="523.25" x2="119.62" y2="528" stroke="#333333" stroke-width="1.4"/>
<line x1="111.62" y1="523.25" x2="127.62" y2="523.25" stroke="#333333" stroke-width="1.5"/>
<line x1="119.62" y1="555.5" x2="119.62" y2="557.5" stroke="#333333" stroke-width="1.4"/>
<line x1="111.62" y1="555.5" x2="127.62" y2="555.5" stroke="#333333" stroke-width="1.5"/>
<line x1="182.5" y1="491.75" x2="182.5" y2="567.35" stroke="#1a1a1a" stroke-width="1.1"/>
<line x1="182" y1="566.75" x2="293.75" y2="566.75" stroke="#1a1a1a" stroke-width="1.5"/>
<line x1="179.7" y1="566.75" x2="182.5" y2="566.75" stroke="#1a1a1a" stroke-width="1"/>
<text x="177.5" y="569.65" font-size="8.5" fill="#1a1a1a" stroke="#1a1a1a" stroke-width="0.16" text-anchor="end" textLength="4" lengthAdjust="spacingAndGlyphs">0</text>
<line x1="179.7" y1="542.25" x2="182.5" y2="542.25" stroke="#1a1a1a" stroke-width="1"/>
<text x="177.5" y="545.15" font-size="8.5" fill="#1a1a1a" stroke="#1a1a1a" stroke-width="0.16" text-anchor="end" textLength="4" lengthAdjust="spacingAndGlyphs">5</text>
<line x1="179.7" y1="517.75" x2="182.5" y2="517.75" stroke="#1a1a1a" stroke-width="1"/>
<text x="177.5" y="520.65" font-size="8.5" fill="#1a1a1a" stroke="#1a1a1a" stroke-width="0.16" text-anchor="end" textLength="8.6" lengthAdjust="spacingAndGlyphs">10</text>
<line x1="179.7" y1="493.25" x2="182.5" y2="493.25" stroke="#1a1a1a" stroke-width="1"/>
<text x="177.5" y="496.15" font-size="8.5" fill="#1a1a1a" stroke="#1a1a1a" stroke-width="0.16" text-anchor="end" textLength="8.6" lengthAdjust="spacingAndGlyphs">15</text>
<rect x="194.5" y="536.75" width="31.75" height="30" fill="#d5d5d5"/>
<rect x="194.5" y="559.25" width="31.75" height="7.5" fill="#6aa644"/>
<line x1="210.38" y1="528" x2="210.38" y2="536.75" stroke="#333333" stroke-width="1.4"/>
<line x1="202.38" y1="528" x2="218.38" y2="528" stroke="#333333" stroke-width="1.5"/>
<line x1="210.38" y1="555" x2="210.38" y2="559.25" stroke="#333333" stroke-width="1.4"/>
<line x1="202.38" y1="555" x2="218.38" y2="555" stroke="#333333" stroke-width="1.5"/>
<rect x="250" y="518.25" width="31.75" height="48.5" fill="#d5d5d5"/>
<rect x="250" y="549.25" width="31.75" height="17.5" fill="#304a7a"/>
<line x1="265.88" y1="507.5" x2="265.88" y2="518.25" stroke="#333333" stroke-width="1.4"/>
<line x1="257.88" y1="507.5" x2="273.88" y2="507.5" stroke="#333333" stroke-width="1.5"/>
<line x1="265.88" y1="540" x2="265.88" y2="549.25" stroke="#333333" stroke-width="1.4"/>
<line x1="257.88" y1="540" x2="273.88" y2="540" stroke="#333333" stroke-width="1.5"/>
<text x="75.8" y="335.6" font-size="8.5" fill="#1a1a1a" stroke="#1a1a1a" stroke-width="0.16" text-anchor="end" textLength="15.1" lengthAdjust="spacingAndGlyphs">58%</text>
<text x="75.8" y="344" font-size="8.5" fill="#64a63c" stroke="#64a63c" stroke-width="0.16" text-anchor="end" textLength="15.1" lengthAdjust="spacingAndGlyphs">42%</text>
<line x1="78.75" y1="333.2" x2="78.75" y2="341.8" stroke="#333" stroke-width="1.3"/>
<line x1="78.75" y1="337.5" x2="105" y2="337.5" stroke="#333" stroke-width="1.2"/>
<line x1="105" y1="333.2" x2="105" y2="341.8" stroke="#333" stroke-width="1.3"/>
<text x="107.2" y="335.6" font-size="8.5" fill="#1a1a1a" stroke="#1a1a1a" stroke-width="0.16" textLength="14.6" lengthAdjust="spacingAndGlyphs">67%</text>
<text x="107.2" y="344" font-size="8.5" fill="#28467e" stroke="#28467e" stroke-width="0.16" textLength="14.6" lengthAdjust="spacingAndGlyphs">33%</text>
<text x="226.3" y="335.6" font-size="8.5" fill="#1a1a1a" stroke="#1a1a1a" stroke-width="0.16" text-anchor="end" textLength="15.6" lengthAdjust="spacingAndGlyphs">57%</text>
<text x="226.3" y="344" font-size="8.5" fill="#64a63c" stroke="#64a63c" stroke-width="0.16" text-anchor="end" textLength="15.6" lengthAdjust="spacingAndGlyphs">43%</text>
<line x1="229.25" y1="333.2" x2="229.25" y2="341.8" stroke="#333" stroke-width="1.3"/>
<line x1="229.25" y1="337.5" x2="256.25" y2="337.5" stroke="#333" stroke-width="1.2"/>
<line x1="256.25" y1="333.2" x2="256.25" y2="341.8" stroke="#333" stroke-width="1.3"/>
<text x="258.45" y="335.6" font-size="8.5" fill="#1a1a1a" stroke="#1a1a1a" stroke-width="0.16" textLength="14.6" lengthAdjust="spacingAndGlyphs">72%</text>
<text x="258.45" y="344" font-size="8.5" fill="#28467e" stroke="#28467e" stroke-width="0.16" textLength="14.6" lengthAdjust="spacingAndGlyphs">28%</text>
<text x="75.3" y="484.6" font-size="8.5" fill="#1a1a1a" stroke="#1a1a1a" stroke-width="0.16" text-anchor="end" textLength="14.35" lengthAdjust="spacingAndGlyphs">54%</text>
<text x="75.3" y="493" font-size="8.5" fill="#64a63c" stroke="#64a63c" stroke-width="0.16" text-anchor="end" textLength="14.35" lengthAdjust="spacingAndGlyphs">46%</text>
<line x1="78.75" y1="481.95" x2="78.75" y2="490.55" stroke="#333" stroke-width="1.3"/>
<line x1="78.75" y1="486.25" x2="105" y2="486.25" stroke="#333" stroke-width="1.2"/>
<line x1="105" y1="481.95" x2="105" y2="490.55" stroke="#333" stroke-width="1.3"/>
<text x="107.2" y="484.6" font-size="8.5" fill="#1a1a1a" stroke="#1a1a1a" stroke-width="0.16" textLength="14.6" lengthAdjust="spacingAndGlyphs">76%</text>
<text x="107.2" y="493" font-size="8.5" fill="#28467e" stroke="#28467e" stroke-width="0.16" textLength="14.6" lengthAdjust="spacingAndGlyphs">24%</text>
<text x="222.3" y="484.6" font-size="8.5" fill="#1a1a1a" stroke="#1a1a1a" stroke-width="0.16" text-anchor="end" textLength="15.1" lengthAdjust="spacingAndGlyphs">73%</text>
<text x="222.3" y="493" font-size="8.5" fill="#64a63c" stroke="#64a63c" stroke-width="0.16" text-anchor="end" textLength="15.1" lengthAdjust="spacingAndGlyphs">27%</text>
<line x1="224.5" y1="481.95" x2="224.5" y2="490.55" stroke="#333" stroke-width="1.3"/>
<line x1="224.5" y1="486.25" x2="251.75" y2="486.25" stroke="#333" stroke-width="1.2"/>
<line x1="251.75" y1="481.95" x2="251.75" y2="490.55" stroke="#333" stroke-width="1.3"/>
<text x="253.95" y="484.6" font-size="8.5" fill="#1a1a1a" stroke="#1a1a1a" stroke-width="0.16" textLength="14.6" lengthAdjust="spacingAndGlyphs">64%</text>
<text x="253.95" y="493" font-size="8.5" fill="#28467e" stroke="#28467e" stroke-width="0.16" textLength="14.6" lengthAdjust="spacingAndGlyphs">36%</text>
<text x="92" y="320" font-size="9.5" fill="#1a1a1a" stroke="#1a1a1a" stroke-width="0.16" text-anchor="middle" textLength="36.6" lengthAdjust="spacingAndGlyphs">total BM</text>
<text x="242.2" y="320" font-size="9.5" fill="#1a1a1a" stroke="#1a1a1a" stroke-width="0.16" text-anchor="middle" textLength="15.8" lengthAdjust="spacingAndGlyphs">LSK</text>
<text x="92.5" y="456.8" font-size="9.5" fill="#1a1a1a" stroke="#1a1a1a" stroke-width="0.16" text-anchor="middle" textLength="20.4" lengthAdjust="spacingAndGlyphs">MPP</text>
<text x="92" y="469.3" font-size="9.5" fill="#1a1a1a" stroke="#1a1a1a" stroke-width="0.16" text-anchor="middle" textLength="86.5" lengthAdjust="spacingAndGlyphs">LSK+CD48+CD150-</text>
<path d="M92.5,473.6L92.5,476.4M93.71,474.3L91.29,475.7M93.71,475.7L91.29,474.3" stroke="#1a1a1a" stroke-width="0.8" fill="none"/>
<text x="238.5" y="456.8" font-size="9.5" fill="#1a1a1a" stroke="#1a1a1a" stroke-width="0.16" text-anchor="middle" textLength="30.8" lengthAdjust="spacingAndGlyphs">LT-HSC</text>
<text x="237.8" y="469.3" font-size="9.5" fill="#1a1a1a" stroke="#1a1a1a" stroke-width="0.16" text-anchor="middle" textLength="84.8" lengthAdjust="spacingAndGlyphs">LSK+CD48-CD150+</text>
<text x="237.9" y="478.8" font-size="8" fill="#1a1a1a" stroke="#1a1a1a" stroke-width="0.16" text-anchor="middle" textLength="24.5" lengthAdjust="spacingAndGlyphs">p=0.17</text>
<text transform="translate(16.6,380) rotate(-90)" font-size="9.5" fill="#1a1a1a" text-anchor="middle" textLength="76" lengthAdjust="spacingAndGlyphs">Cell number ( x 10^6)</text>
<text transform="translate(162.6,380) rotate(-90)" font-size="9.5" fill="#1a1a1a" text-anchor="middle" textLength="76" lengthAdjust="spacingAndGlyphs">Cell number ( x 10^3)</text>
<text transform="translate(16.6,529.5) rotate(-90)" font-size="9.5" fill="#1a1a1a" text-anchor="middle" textLength="76" lengthAdjust="spacingAndGlyphs">Cell number ( x 10^3)</text>
<text transform="translate(162.6,529.5) rotate(-90)" font-size="9.5" fill="#1a1a1a" text-anchor="middle" textLength="76" lengthAdjust="spacingAndGlyphs">Cell number ( x 10^3)</text>
<text x="8.9" y="307.2" font-size="10" fill="#1a1a1a" font-weight="bold" stroke="#000" stroke-width="0.55" textLength="6.4" lengthAdjust="spacingAndGlyphs">E</text>
<text x="314.6" y="307.2" font-size="10" fill="#1a1a1a" font-weight="bold" stroke="#000" stroke-width="0.55" textLength="5.8" lengthAdjust="spacingAndGlyphs">F</text>
<text x="51.25" y="429.4" font-size="9.5" fill="#64a63c" stroke="#64a63c" stroke-width="0.16" textLength="15.8" lengthAdjust="spacingAndGlyphs">Stk4</text>
<text x="67.25" y="425" font-size="6.3" fill="#64a63c" stroke="#64a63c" stroke-width="0.16" textLength="10.1" lengthAdjust="spacingAndGlyphs">+/+</text>
<text x="51.25" y="438.6" font-size="9.5" fill="#64a63c" stroke="#64a63c" stroke-width="0.16" textLength="15.8" lengthAdjust="spacingAndGlyphs">Stk3</text>
<text x="67.25" y="434.2" font-size="6.3" fill="#64a63c" stroke="#64a63c" stroke-width="0.16" textLength="10.1" lengthAdjust="spacingAndGlyphs">+/+</text>
<text x="201.65" y="429.4" font-size="9.5" fill="#64a63c" stroke="#64a63c" stroke-width="0.16" textLength="15.8" lengthAdjust="spacingAndGlyphs">Stk4</text>
<text x="217.65" y="425" font-size="6.3" fill="#64a63c" stroke="#64a63c" stroke-width="0.16" textLength="10.1" lengthAdjust="spacingAndGlyphs">+/+</text>
<text x="201.65" y="438.6" font-size="9.5" fill="#64a63c" stroke="#64a63c" stroke-width="0.16" textLength="15.8" lengthAdjust="spacingAndGlyphs">Stk3</text>
<text x="217.65" y="434.2" font-size="6.3" fill="#64a63c" stroke="#64a63c" stroke-width="0.16" textLength="10.1" lengthAdjust="spacingAndGlyphs">+/+</text>
<text x="51.25" y="579.4" font-size="9.5" fill="#64a63c" stroke="#64a63c" stroke-width="0.16" textLength="15.8" lengthAdjust="spacingAndGlyphs">Stk4</text>
<text x="67.25" y="575" font-size="6.3" fill="#64a63c" stroke="#64a63c" stroke-width="0.16" textLength="10.1" lengthAdjust="spacingAndGlyphs">+/+</text>
<text x="51.25" y="588.6" font-size="9.5" fill="#64a63c" stroke="#64a63c" stroke-width="0.16" textLength="15.8" lengthAdjust="spacingAndGlyphs">Stk3</text>
<text x="67.25" y="584.2" font-size="6.3" fill="#64a63c" stroke="#64a63c" stroke-width="0.16" textLength="10.1" lengthAdjust="spacingAndGlyphs">+/+</text>
<text x="197.3" y="579.4" font-size="9.5" fill="#64a63c" stroke="#64a63c" stroke-width="0.16" textLength="15.8" lengthAdjust="spacingAndGlyphs">Stk4</text>
<text x="213.3" y="575" font-size="6.3" fill="#64a63c" stroke="#64a63c" stroke-width="0.16" textLength="10.1" lengthAdjust="spacingAndGlyphs">+/+</text>
<text x="197.3" y="588.6" font-size="9.5" fill="#64a63c" stroke="#64a63c" stroke-width="0.16" textLength="15.8" lengthAdjust="spacingAndGlyphs">Stk3</text>
<text x="213.3" y="584.2" font-size="6.3" fill="#64a63c" stroke="#64a63c" stroke-width="0.16" textLength="10.1" lengthAdjust="spacingAndGlyphs">+/+</text>
<text x="366.3" y="429.4" font-size="9.5" fill="#64a63c" stroke="#64a63c" stroke-width="0.16" textLength="15.8" lengthAdjust="spacingAndGlyphs">Stk4</text>
<text x="382.3" y="425" font-size="6.3" fill="#64a63c" stroke="#64a63c" stroke-width="0.16" textLength="10.1" lengthAdjust="spacingAndGlyphs">+/+</text>
<text x="366.3" y="438.6" font-size="9.5" fill="#64a63c" stroke="#64a63c" stroke-width="0.16" textLength="15.8" lengthAdjust="spacingAndGlyphs">Stk3</text>
<text x="382.3" y="434.2" font-size="6.3" fill="#64a63c" stroke="#64a63c" stroke-width="0.16" textLength="10.1" lengthAdjust="spacingAndGlyphs">+/+</text>
<text x="366.3" y="579.4" font-size="9.5" fill="#64a63c" stroke="#64a63c" stroke-width="0.16" textLength="15.8" lengthAdjust="spacingAndGlyphs">Stk4</text>
<text x="382.3" y="575" font-size="6.3" fill="#64a63c" stroke="#64a63c" stroke-width="0.16" textLength="10.1" lengthAdjust="spacingAndGlyphs">+/+</text>
<text x="366.3" y="588.6" font-size="9.5" fill="#64a63c" stroke="#64a63c" stroke-width="0.16" textLength="15.8" lengthAdjust="spacingAndGlyphs">Stk3</text>
<text x="382.3" y="584.2" font-size="6.3" fill="#64a63c" stroke="#64a63c" stroke-width="0.16" textLength="10.1" lengthAdjust="spacingAndGlyphs">+/+</text>
<text x="107.25" y="429.4" font-size="9.5" fill="#28467e" stroke="#28467e" stroke-width="0.16" textLength="15.8" lengthAdjust="spacingAndGlyphs">Stk4</text>
<text x="123.25" y="425" font-size="6.3" fill="#28467e" stroke="#28467e" stroke-width="0.16" textLength="8.6" lengthAdjust="spacingAndGlyphs">+/-</text>
<text x="107.25" y="438.6" font-size="9.5" fill="#28467e" stroke="#28467e" stroke-width="0.16" textLength="15.8" lengthAdjust="spacingAndGlyphs">Stk3</text>
<text x="123.25" y="434.2" font-size="6.3" fill="#28467e" stroke="#28467e" stroke-width="0.16" textLength="8.6" lengthAdjust="spacingAndGlyphs">+/-</text>
<text x="257.9" y="429.4" font-size="9.5" fill="#28467e" stroke="#28467e" stroke-width="0.16" textLength="15.8" lengthAdjust="spacingAndGlyphs">Stk4</text>
<text x="273.9" y="425" font-size="6.3" fill="#28467e" stroke="#28467e" stroke-width="0.16" textLength="8.6" lengthAdjust="spacingAndGlyphs">+/-</text>
<text x="257.9" y="438.6" font-size="9.5" fill="#28467e" stroke="#28467e" stroke-width="0.16" textLength="15.8" lengthAdjust="spacingAndGlyphs">Stk3</text>
<text x="273.9" y="434.2" font-size="6.3" fill="#28467e" stroke="#28467e" stroke-width="0.16" textLength="8.6" lengthAdjust="spacingAndGlyphs">+/-</text>
<text x="107.25" y="579.4" font-size="9.5" fill="#28467e" stroke="#28467e" stroke-width="0.16" textLength="15.8" lengthAdjust="spacingAndGlyphs">Stk4</text>
<text x="123.25" y="575" font-size="6.3" fill="#28467e" stroke="#28467e" stroke-width="0.16" textLength="8.6" lengthAdjust="spacingAndGlyphs">+/-</text>
<text x="107.25" y="588.6" font-size="9.5" fill="#28467e" stroke="#28467e" stroke-width="0.16" textLength="15.8" lengthAdjust="spacingAndGlyphs">Stk3</text>
<text x="123.25" y="584.2" font-size="6.3" fill="#28467e" stroke="#28467e" stroke-width="0.16" textLength="8.6" lengthAdjust="spacingAndGlyphs">+/-</text>
<text x="253.55" y="579.4" font-size="9.5" fill="#28467e" stroke="#28467e" stroke-width="0.16" textLength="15.8" lengthAdjust="spacingAndGlyphs">Stk4</text>
<text x="269.55" y="575" font-size="6.3" fill="#28467e" stroke="#28467e" stroke-width="0.16" textLength="8.6" lengthAdjust="spacingAndGlyphs">+/-</text>
<text x="253.55" y="588.6" font-size="9.5" fill="#28467e" stroke="#28467e" stroke-width="0.16" textLength="15.8" lengthAdjust="spacingAndGlyphs">Stk3</text>
<text x="269.55" y="584.2" font-size="6.3" fill="#28467e" stroke="#28467e" stroke-width="0.16" textLength="8.6" lengthAdjust="spacingAndGlyphs">+/-</text>
<text x="408.15" y="429.4" font-size="9.5" fill="#28467e" stroke="#28467e" stroke-width="0.16" textLength="15.8" lengthAdjust="spacingAndGlyphs">Stk4</text>
<text x="424.15" y="425" font-size="6.3" fill="#28467e" stroke="#28467e" stroke-width="0.16" textLength="8.6" lengthAdjust="spacingAndGlyphs">+/-</text>
<text x="408.15" y="438.6" font-size="9.5" fill="#28467e" stroke="#28467e" stroke-width="0.16" textLength="15.8" lengthAdjust="spacingAndGlyphs">Stk3</text>
<text x="424.15" y="434.2" font-size="6.3" fill="#28467e" stroke="#28467e" stroke-width="0.16" textLength="8.6" lengthAdjust="spacingAndGlyphs">+/-</text>
<text x="408.15" y="579.4" font-size="9.5" fill="#28467e" stroke="#28467e" stroke-width="0.16" textLength="15.8" lengthAdjust="spacingAndGlyphs">Stk4</text>
<text x="424.15" y="575" font-size="6.3" fill="#28467e" stroke="#28467e" stroke-width="0.16" textLength="8.6" lengthAdjust="spacingAndGlyphs">+/-</text>
<text x="408.15" y="588.6" font-size="9.5" fill="#28467e" stroke="#28467e" stroke-width="0.16" textLength="15.8" lengthAdjust="spacingAndGlyphs">Stk3</text>
<text x="424.15" y="584.2" font-size="6.3" fill="#28467e" stroke="#28467e" stroke-width="0.16" textLength="8.6" lengthAdjust="spacingAndGlyphs">+/-</text>
<line x1="353.5" y1="328" x2="353.5" y2="416.5" stroke="#1a1a1a" stroke-width="1.1"/>
<line x1="353" y1="415.9" x2="443" y2="415.9" stroke="#1a1a1a" stroke-width="1.5"/>
<line x1="350.7" y1="415.9" x2="353.5" y2="415.9" stroke="#1a1a1a" stroke-width="1"/>
<text x="347.7" y="418.8" font-size="8.5" fill="#1a1a1a" stroke="#1a1a1a" stroke-width="0.16" text-anchor="end" textLength="4" lengthAdjust="spacingAndGlyphs">0</text>
<line x1="350.7" y1="387.17" x2="353.5" y2="387.17" stroke="#1a1a1a" stroke-width="1"/>
<text x="347.7" y="390.07" font-size="8.5" fill="#1a1a1a" stroke="#1a1a1a" stroke-width="0.16" text-anchor="end" textLength="13" lengthAdjust="spacingAndGlyphs">500</text>
<line x1="350.7" y1="358.44" x2="353.5" y2="358.44" stroke="#1a1a1a" stroke-width="1"/>
<text x="347.7" y="361.34" font-size="8.5" fill="#1a1a1a" stroke="#1a1a1a" stroke-width="0.16" text-anchor="end" textLength="17.4" lengthAdjust="spacingAndGlyphs">1000</text>
<line x1="350.7" y1="329.71" x2="353.5" y2="329.71" stroke="#1a1a1a" stroke-width="1"/>
<text x="347.7" y="332.61" font-size="8.5" fill="#1a1a1a" stroke="#1a1a1a" stroke-width="0.16" text-anchor="end" textLength="17.4" lengthAdjust="spacingAndGlyphs">1500</text>
<text x="398.4" y="308" font-size="9.5" fill="#1a1a1a" stroke="#1a1a1a" stroke-width="0.16" text-anchor="middle" textLength="39.6" lengthAdjust="spacingAndGlyphs">40 weeks</text>
<path d="M399.5,313.6L399.5,316.4M400.71,314.3L398.29,315.7M400.71,315.7L398.29,314.3" stroke="#1a1a1a" stroke-width="0.8" fill="none"/>
<line x1="380.4" y1="323.3" x2="418.8" y2="323.3" stroke="#1a1a1a" stroke-width="1.1"/>
<circle cx="379.4" cy="332.9" r="2.15" fill="#64a63c"/>
<circle cx="389" cy="356" r="2.15" fill="#64a63c"/>
<circle cx="369.4" cy="360.2" r="2.15" fill="#64a63c"/>
<circle cx="376" cy="361.3" r="2.15" fill="#64a63c"/>
<circle cx="382.3" cy="361" r="2.15" fill="#64a63c"/>
<circle cx="379.4" cy="368.5" r="2.15" fill="#64a63c"/>
<circle cx="382.3" cy="370.6" r="2.15" fill="#64a63c"/>
<circle cx="376" cy="375.4" r="2.15" fill="#64a63c"/>
<line x1="366.5" y1="360.6" x2="392" y2="360.6" stroke="#64a63c" stroke-width="1.3"/>
<line x1="373" y1="356" x2="385.6" y2="356" stroke="#64a63c" stroke-width="1.2"/>
<line x1="373" y1="365.6" x2="385.6" y2="365.6" stroke="#64a63c" stroke-width="1.2"/>
<line x1="379.3" y1="356" x2="379.3" y2="365.6" stroke="#64a63c" stroke-width="1.2"/>
<circle cx="417.3" cy="356" r="2.15" fill="#28467e"/>
<circle cx="410.8" cy="365.6" r="2.15" fill="#28467e"/>
<circle cx="417.3" cy="365.6" r="2.15" fill="#28467e"/>
<circle cx="424" cy="365.6" r="2.15" fill="#28467e"/>
<circle cx="417.3" cy="388.8" r="2.15" fill="#28467e"/>
<circle cx="410.8" cy="401.2" r="2.15" fill="#28467e"/>
<circle cx="424" cy="402" r="2.15" fill="#28467e"/>
<circle cx="417.3" cy="404.2" r="2.15" fill="#28467e"/>
<line x1="405" y1="381.2" x2="430" y2="381.2" stroke="#28467e" stroke-width="1.3"/>
<line x1="411" y1="374.2" x2="423.7" y2="374.2" stroke="#28467e" stroke-width="1.2"/>
<line x1="411" y1="388.3" x2="423.7" y2="388.3" stroke="#28467e" stroke-width="1.2"/>
<line x1="417.3" y1="374.2" x2="417.3" y2="388.3" stroke="#28467e" stroke-width="1.2"/>
<text transform="translate(325.6,372.5) rotate(-90)" font-size="9" fill="#1a1a1a" text-anchor="middle" textLength="70" lengthAdjust="spacingAndGlyphs">Platelets (x10<tspan font-size="5.5" dy="-3">3</tspan><tspan dy="3">/mm</tspan><tspan font-size="5.5" dy="-3">3</tspan><tspan dy="3">)</tspan></text>
<line x1="353.5" y1="478.5" x2="353.5" y2="567" stroke="#1a1a1a" stroke-width="1.1"/>
<line x1="353" y1="566.4" x2="443" y2="566.4" stroke="#1a1a1a" stroke-width="1.5"/>
<line x1="350.7" y1="566.4" x2="353.5" y2="566.4" stroke="#1a1a1a" stroke-width="1"/>
<text x="347.9" y="569.3" font-size="8.5" fill="#1a1a1a" stroke="#1a1a1a" stroke-width="0.16" text-anchor="end" textLength="4" lengthAdjust="spacingAndGlyphs">4</text>
<line x1="350.7" y1="552.1" x2="353.5" y2="552.1" stroke="#1a1a1a" stroke-width="1"/>
<text x="347.9" y="555" font-size="8.5" fill="#1a1a1a" stroke="#1a1a1a" stroke-width="0.16" text-anchor="end" textLength="4" lengthAdjust="spacingAndGlyphs">5</text>
<line x1="350.7" y1="537.8" x2="353.5" y2="537.8" stroke="#1a1a1a" stroke-width="1"/>
<text x="347.9" y="540.7" font-size="8.5" fill="#1a1a1a" stroke="#1a1a1a" stroke-width="0.16" text-anchor="end" textLength="4" lengthAdjust="spacingAndGlyphs">6</text>
<line x1="350.7" y1="523.5" x2="353.5" y2="523.5" stroke="#1a1a1a" stroke-width="1"/>
<text x="347.9" y="526.4" font-size="8.5" fill="#1a1a1a" stroke="#1a1a1a" stroke-width="0.16" text-anchor="end" textLength="4" lengthAdjust="spacingAndGlyphs">7</text>
<line x1="350.7" y1="509.2" x2="353.5" y2="509.2" stroke="#1a1a1a" stroke-width="1"/>
<text x="347.9" y="512.1" font-size="8.5" fill="#1a1a1a" stroke="#1a1a1a" stroke-width="0.16" text-anchor="end" textLength="4" lengthAdjust="spacingAndGlyphs">8</text>
<line x1="350.7" y1="494.9" x2="353.5" y2="494.9" stroke="#1a1a1a" stroke-width="1"/>
<text x="347.9" y="497.8" font-size="8.5" fill="#1a1a1a" stroke="#1a1a1a" stroke-width="0.16" text-anchor="end" textLength="4" lengthAdjust="spacingAndGlyphs">9</text>
<line x1="350.7" y1="480.6" x2="353.5" y2="480.6" stroke="#1a1a1a" stroke-width="1"/>
<text x="347.9" y="483.5" font-size="8.5" fill="#1a1a1a" stroke="#1a1a1a" stroke-width="0.16" text-anchor="end" textLength="8.6" lengthAdjust="spacingAndGlyphs">10</text>
<text x="397.9" y="483" font-size="8.5" fill="#1a1a1a" stroke="#1a1a1a" stroke-width="0.16" text-anchor="middle" textLength="28.6" lengthAdjust="spacingAndGlyphs">p = 0.06</text>
<line x1="379.4" y1="487" x2="417" y2="487" stroke="#444" stroke-width="1.1"/>
<circle cx="379.3" cy="538.4" r="2.15" fill="#64a63c"/>
<circle cx="369.5" cy="545.6" r="2.15" fill="#64a63c"/>
<circle cx="373" cy="546.8" r="2.15" fill="#64a63c"/>
<circle cx="376.2" cy="548.3" r="2.15" fill="#64a63c"/>
<circle cx="379.3" cy="549.3" r="2.15" fill="#64a63c"/>
<circle cx="382.5" cy="548.3" r="2.15" fill="#64a63c"/>
<circle cx="386" cy="547.3" r="2.15" fill="#64a63c"/>
<circle cx="389.5" cy="546.3" r="2.15" fill="#64a63c"/>
<circle cx="391.3" cy="546.9" r="2.15" fill="#64a63c"/>
<line x1="367" y1="547" x2="391.5" y2="547" stroke="#64a63c" stroke-width="1.3"/>
<line x1="373" y1="543.2" x2="385.4" y2="543.2" stroke="#64a63c" stroke-width="1.1"/>
<line x1="379.3" y1="543.2" x2="379.3" y2="547" stroke="#64a63c" stroke-width="1.1"/>
<circle cx="417.3" cy="494" r="2.15" fill="#28467e"/>
<circle cx="417.3" cy="524.2" r="2.15" fill="#28467e"/>
<circle cx="417.3" cy="532.5" r="2.15" fill="#28467e"/>
<circle cx="414" cy="539.6" r="2.15" fill="#28467e"/>
<circle cx="420.8" cy="539.6" r="2.15" fill="#28467e"/>
<circle cx="410.8" cy="544.2" r="2.15" fill="#28467e"/>
<circle cx="424" cy="545.6" r="2.15" fill="#28467e"/>
<circle cx="417.3" cy="548.5" r="2.15" fill="#28467e"/>
<line x1="405" y1="533.5" x2="430" y2="533.5" stroke="#28467e" stroke-width="1.3"/>
<line x1="410.8" y1="515.8" x2="423.7" y2="515.8" stroke="#28467e" stroke-width="1.2"/>
<line x1="410.8" y1="551.3" x2="423.7" y2="551.3" stroke="#28467e" stroke-width="1.2"/>
<line x1="417.3" y1="515.8" x2="417.3" y2="551.3" stroke="#28467e" stroke-width="1.2"/>
<text transform="translate(322.8,523.8) rotate(-90)" font-size="9" fill="#1a1a1a" text-anchor="middle" textLength="47.5" lengthAdjust="spacingAndGlyphs">Mean platelet</text>
<text transform="translate(333.8,523.8) rotate(-90)" font-size="9" fill="#1a1a1a" text-anchor="middle" textLength="47.5" lengthAdjust="spacingAndGlyphs">volume (µm<tspan font-size="5.5" dy="-3">3</tspan><tspan dy="3">)</tspan></text>
<rect x="73.75" y="597" width="12" height="16.25" fill="#6aa644"/>
<rect x="73.75" y="616.25" width="12" height="16.75" fill="#304a7a"/>
<text x="90.3" y="617.8" font-size="8.5" fill="#1a1a1a" stroke="#1a1a1a" stroke-width="0.16" textLength="53" lengthAdjust="spacingAndGlyphs">Donor (CD45.2)</text>
<rect x="157" y="607" width="11.75" height="16" fill="#d5d5d5"/>
<text x="173.5" y="617.8" font-size="8.5" fill="#1a1a1a" stroke="#1a1a1a" stroke-width="0.16" textLength="63" lengthAdjust="spacingAndGlyphs">Recipient (CD45.1)</text>
<rect x="0.6" y="0.6" width="518.8" height="638.8" fill="none" stroke="#000" stroke-width="1.3"/>
</svg>
</body></html>
